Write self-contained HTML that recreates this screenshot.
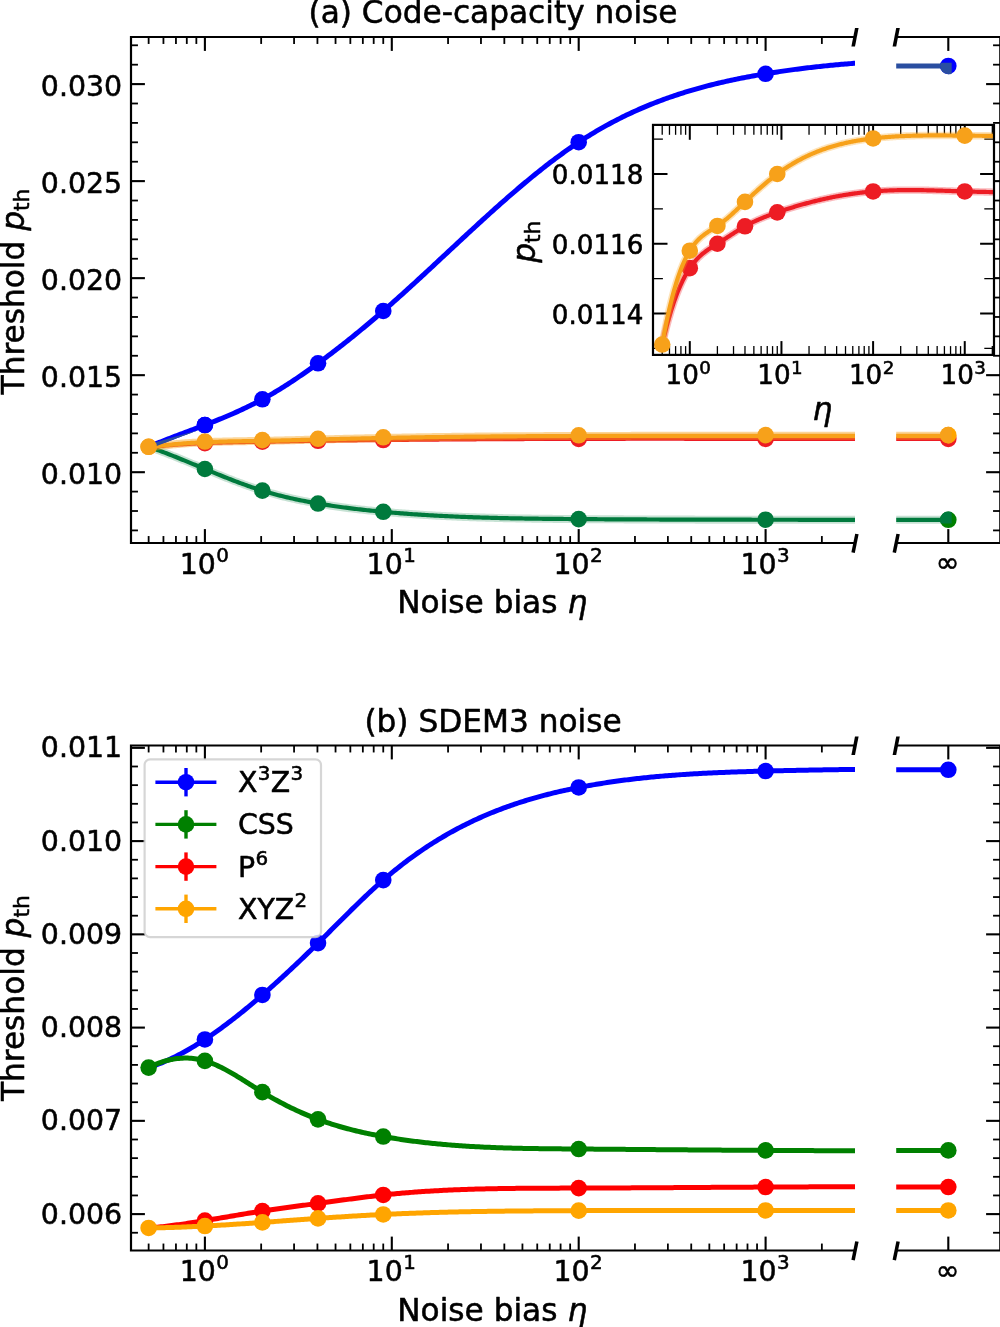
<!DOCTYPE html>
<html lang="en"><head><meta charset="utf-8"><title>Threshold vs noise bias</title>
<style>html,body{margin:0;padding:0;background:#fff}svg{display:block}</style></head>
<body>
<svg width="1000" height="1327" viewBox="0 0 1000 1327" font-family="'DejaVu Sans', 'Liberation Sans', sans-serif" fill="#000"><style>text{stroke:#000;stroke-width:0.55px;stroke-linejoin:round}</style>
<rect width="1000" height="1327" fill="#fff"/>
<clipPath id="cl37"><rect x="131.0" y="37.0" width="724.0" height="506.0"/></clipPath>
<path d="M148.64,446.76 L150.41,446.02 L152.19,445.28 L153.97,444.55 L155.74,443.83 L157.52,443.11 L159.30,442.40 L161.07,441.70 L162.85,441.00 L164.63,440.30 L166.40,439.61 L168.18,438.92 L169.95,438.23 L171.73,437.55 L173.51,436.87 L175.28,436.20 L177.06,435.53 L178.84,434.85 L180.61,434.18 L182.39,433.51 L184.17,432.85 L185.94,432.18 L187.72,431.51 L189.50,430.85 L191.27,430.18 L193.05,429.51 L194.82,428.84 L196.60,428.17 L198.38,427.50 L200.15,426.82 L201.93,426.15 L203.71,425.47 L205.48,424.78 L207.26,424.10 L209.04,423.41 L210.81,422.71 L212.59,422.01 L214.37,421.31 L216.14,420.60 L217.92,419.89 L219.69,419.17 L221.47,418.44 L223.25,417.71 L225.02,416.97 L226.80,416.23 L228.58,415.47 L230.35,414.71 L232.13,413.94 L233.91,413.17 L235.68,412.38 L237.46,411.59 L239.24,410.78 L241.01,409.97 L242.79,409.14 L244.57,408.31 L246.34,407.46 L248.12,406.61 L249.89,405.74 L251.67,404.86 L253.45,403.97 L255.22,403.06 L257.00,402.15 L258.78,401.22 L260.55,400.27 L262.33,399.32 L264.11,398.35 L265.88,397.36 L267.66,396.36 L269.44,395.35 L271.21,394.33 L272.99,393.29 L274.76,392.24 L276.54,391.18 L278.32,390.10 L280.09,389.01 L281.87,387.91 L283.65,386.80 L285.42,385.68 L287.20,384.55 L288.98,383.40 L290.75,382.24 L292.53,381.08 L294.31,379.90 L296.08,378.71 L297.86,377.52 L299.63,376.31 L301.41,375.10 L303.19,373.87 L304.96,372.64 L306.74,371.39 L308.52,370.14 L310.29,368.88 L312.07,367.61 L313.85,366.34 L315.62,365.05 L317.40,363.76 L319.18,362.46 L320.95,361.16 L322.73,359.84 L324.50,358.52 L326.28,357.19 L328.06,355.86 L329.83,354.52 L331.61,353.17 L333.39,351.81 L335.16,350.45 L336.94,349.08 L338.72,347.70 L340.49,346.32 L342.27,344.93 L344.05,343.53 L345.82,342.13 L347.60,340.72 L349.37,339.30 L351.15,337.87 L352.93,336.44 L354.70,335.00 L356.48,333.56 L358.26,332.11 L360.03,330.65 L361.81,329.19 L363.59,327.71 L365.36,326.24 L367.14,324.75 L368.92,323.26 L370.69,321.77 L372.47,320.26 L374.24,318.75 L376.02,317.24 L377.80,315.71 L379.57,314.18 L381.35,312.65 L383.13,311.11 L384.90,309.56 L386.68,308.01 L388.46,306.45 L390.23,304.88 L392.01,303.31 L393.79,301.74 L395.56,300.15 L397.34,298.57 L399.11,296.98 L400.89,295.38 L402.67,293.78 L404.44,292.18 L406.22,290.57 L408.00,288.95 L409.77,287.34 L411.55,285.72 L413.33,284.09 L415.10,282.47 L416.88,280.84 L418.66,279.21 L420.43,277.57 L422.21,275.93 L423.99,274.29 L425.76,272.65 L427.54,271.00 L429.31,269.36 L431.09,267.71 L432.87,266.06 L434.64,264.41 L436.42,262.76 L438.20,261.10 L439.97,259.45 L441.75,257.79 L443.53,256.14 L445.30,254.48 L447.08,252.83 L448.86,251.17 L450.63,249.52 L452.41,247.86 L454.18,246.21 L455.96,244.56 L457.74,242.90 L459.51,241.25 L461.29,239.60 L463.07,237.95 L464.84,236.31 L466.62,234.66 L468.40,233.02 L470.17,231.38 L471.95,229.74 L473.73,228.10 L475.50,226.47 L477.28,224.84 L479.05,223.21 L480.83,221.59 L482.61,219.97 L484.38,218.35 L486.16,216.73 L487.94,215.12 L489.71,213.52 L491.49,211.92 L493.27,210.32 L495.04,208.73 L496.82,207.14 L498.60,205.56 L500.37,203.98 L502.15,202.41 L503.92,200.84 L505.70,199.28 L507.48,197.73 L509.25,196.18 L511.03,194.63 L512.81,193.10 L514.58,191.57 L516.36,190.04 L518.14,188.53 L519.91,187.02 L521.69,185.51 L523.47,184.02 L525.24,182.53 L527.02,181.05 L528.79,179.58 L530.57,178.12 L532.35,176.66 L534.12,175.22 L535.90,173.78 L537.68,172.35 L539.45,170.93 L541.23,169.52 L543.01,168.12 L544.78,166.72 L546.56,165.34 L548.34,163.97 L550.11,162.60 L551.89,161.25 L553.66,159.91 L555.44,158.58 L557.22,157.26 L558.99,155.95 L560.77,154.65 L562.55,153.36 L564.32,152.08 L566.10,150.82 L567.88,149.57 L569.65,148.33 L571.43,147.10 L573.21,145.88 L574.98,144.68 L576.76,143.49 L578.54,142.31 L580.31,141.14 L582.09,139.99 L583.86,138.85 L585.64,137.72 L587.42,136.61 L589.19,135.51 L590.97,134.42 L592.75,133.34 L594.52,132.28 L596.30,131.22 L598.08,130.18 L599.85,129.16 L601.63,128.14 L603.41,127.13 L605.18,126.14 L606.96,125.16 L608.73,124.19 L610.51,123.23 L612.29,122.29 L614.06,121.35 L615.84,120.43 L617.62,119.52 L619.39,118.62 L621.17,117.73 L622.95,116.85 L624.72,115.98 L626.50,115.12 L628.28,114.27 L630.05,113.43 L631.83,112.61 L633.60,111.79 L635.38,110.99 L637.16,110.19 L638.93,109.41 L640.71,108.63 L642.49,107.86 L644.26,107.11 L646.04,106.36 L647.82,105.63 L649.59,104.90 L651.37,104.18 L653.15,103.47 L654.92,102.77 L656.70,102.08 L658.47,101.40 L660.25,100.73 L662.03,100.07 L663.80,99.42 L665.58,98.77 L667.36,98.14 L669.13,97.51 L670.91,96.89 L672.69,96.28 L674.46,95.68 L676.24,95.08 L678.02,94.50 L679.79,93.92 L681.57,93.35 L683.34,92.78 L685.12,92.23 L686.90,91.68 L688.67,91.14 L690.45,90.61 L692.23,90.09 L694.00,89.57 L695.78,89.06 L697.56,88.56 L699.33,88.06 L701.11,87.58 L702.89,87.09 L704.66,86.62 L706.44,86.15 L708.21,85.69 L709.99,85.23 L711.77,84.79 L713.54,84.34 L715.32,83.91 L717.10,83.48 L718.87,83.05 L720.65,82.64 L722.43,82.23 L724.20,81.82 L725.98,81.42 L727.76,81.02 L729.53,80.64 L731.31,80.25 L733.08,79.87 L734.86,79.50 L736.64,79.13 L738.41,78.77 L740.19,78.41 L741.97,78.06 L743.74,77.71 L745.52,77.37 L747.30,77.03 L749.07,76.70 L750.85,76.37 L752.63,76.04 L754.40,75.72 L756.18,75.41 L757.96,75.09 L759.73,74.79 L761.51,74.48 L763.28,74.18 L765.06,73.89 L766.84,73.59 L768.61,73.30 L770.39,73.02 L772.17,72.74 L773.94,72.46 L775.72,72.18 L777.50,71.91 L779.27,71.64 L781.05,71.38 L782.83,71.12 L784.60,70.86 L786.38,70.61 L788.15,70.36 L789.93,70.11 L791.71,69.87 L793.48,69.63 L795.26,69.39 L797.04,69.16 L798.81,68.93 L800.59,68.70 L802.37,68.48 L804.14,68.26 L805.92,68.04 L807.70,67.82 L809.47,67.61 L811.25,67.41 L813.02,67.20 L814.80,67.00 L816.58,66.81 L818.35,66.61 L820.13,66.42 L821.91,66.23 L823.68,66.05 L825.46,65.87 L827.24,65.69 L829.01,65.51 L830.79,65.34 L832.57,65.17 L834.34,65.00 L836.12,64.84 L837.89,64.68 L839.67,64.52 L841.45,64.36 L843.22,64.21 L845.00,64.06 L846.78,63.92 L848.55,63.77 L850.33,63.63 L852.11,63.50 L853.88,63.36 L855.66,63.23 L857.44,63.10" fill="none" stroke="#0000ff" stroke-width="5.0" stroke-linejoin="round" clip-path="url(#cl37)"/>
<line x1="896.20" y1="65.96" x2="948.30" y2="65.96" stroke="#2a4ea0" stroke-width="5.0" stroke-linecap="butt" />
<circle cx="204.90" cy="425.01" r="8.3" fill="#0000ff"/>
<circle cx="262.37" cy="399.30" r="8.3" fill="#0000ff"/>
<circle cx="318.03" cy="363.30" r="8.3" fill="#0000ff"/>
<circle cx="383.25" cy="311.00" r="8.3" fill="#0000ff"/>
<circle cx="578.70" cy="142.20" r="8.3" fill="#0000ff"/>
<circle cx="765.60" cy="73.80" r="8.3" fill="#0000ff"/>
<circle cx="948.30" cy="65.96" r="8.3" fill="#0000ff"/>
<clipPath id="mk370000ff"><rect x="936.3" y="62.76" width="15.4" height="15.20"/></clipPath>
<circle cx="948.30" cy="65.96" r="8.3" fill="#2a4ea0" clip-path="url(#mk370000ff)"/>
<path d="M148.64,446.76 L150.41,447.38 L152.19,448.01 L153.97,448.65 L155.74,449.30 L157.52,449.95 L159.30,450.61 L161.07,451.28 L162.85,451.95 L164.63,452.63 L166.40,453.31 L168.18,454.00 L169.95,454.70 L171.73,455.40 L173.51,456.11 L175.28,456.81 L177.06,457.53 L178.84,458.24 L180.61,458.97 L182.39,459.69 L184.17,460.42 L185.94,461.14 L187.72,461.87 L189.50,462.61 L191.27,463.34 L193.05,464.08 L194.82,464.81 L196.60,465.55 L198.38,466.29 L200.15,467.03 L201.93,467.77 L203.71,468.50 L205.48,469.24 L207.26,469.98 L209.04,470.71 L210.81,471.44 L212.59,472.17 L214.37,472.90 L216.14,473.63 L217.92,474.35 L219.69,475.07 L221.47,475.79 L223.25,476.50 L225.02,477.21 L226.80,477.91 L228.58,478.61 L230.35,479.30 L232.13,479.99 L233.91,480.68 L235.68,481.36 L237.46,482.03 L239.24,482.69 L241.01,483.35 L242.79,484.00 L244.57,484.65 L246.34,485.28 L248.12,485.91 L249.89,486.53 L251.67,487.15 L253.45,487.75 L255.22,488.34 L257.00,488.93 L258.78,489.50 L260.55,490.07 L262.33,490.62 L264.11,491.17 L265.88,491.70 L267.66,492.22 L269.44,492.74 L271.21,493.24 L272.99,493.73 L274.76,494.22 L276.54,494.69 L278.32,495.16 L280.09,495.62 L281.87,496.06 L283.65,496.50 L285.42,496.93 L287.20,497.36 L288.98,497.77 L290.75,498.18 L292.53,498.57 L294.31,498.96 L296.08,499.35 L297.86,499.72 L299.63,500.09 L301.41,500.46 L303.19,500.81 L304.96,501.16 L306.74,501.50 L308.52,501.84 L310.29,502.17 L312.07,502.49 L313.85,502.81 L315.62,503.12 L317.40,503.43 L319.18,503.73 L320.95,504.03 L322.73,504.32 L324.50,504.61 L326.28,504.89 L328.06,505.17 L329.83,505.44 L331.61,505.71 L333.39,505.98 L335.16,506.24 L336.94,506.49 L338.72,506.74 L340.49,506.99 L342.27,507.23 L344.05,507.47 L345.82,507.70 L347.60,507.93 L349.37,508.16 L351.15,508.38 L352.93,508.60 L354.70,508.81 L356.48,509.02 L358.26,509.23 L360.03,509.43 L361.81,509.63 L363.59,509.83 L365.36,510.03 L367.14,510.22 L368.92,510.40 L370.69,510.59 L372.47,510.77 L374.24,510.95 L376.02,511.12 L377.80,511.29 L379.57,511.46 L381.35,511.63 L383.13,511.79 L384.90,511.96 L386.68,512.12 L388.46,512.27 L390.23,512.43 L392.01,512.58 L393.79,512.73 L395.56,512.87 L397.34,513.02 L399.11,513.16 L400.89,513.30 L402.67,513.44 L404.44,513.57 L406.22,513.71 L408.00,513.84 L409.77,513.97 L411.55,514.09 L413.33,514.22 L415.10,514.34 L416.88,514.46 L418.66,514.58 L420.43,514.69 L422.21,514.80 L423.99,514.92 L425.76,515.02 L427.54,515.13 L429.31,515.24 L431.09,515.34 L432.87,515.44 L434.64,515.54 L436.42,515.64 L438.20,515.73 L439.97,515.83 L441.75,515.92 L443.53,516.01 L445.30,516.10 L447.08,516.18 L448.86,516.27 L450.63,516.35 L452.41,516.43 L454.18,516.51 L455.96,516.59 L457.74,516.66 L459.51,516.74 L461.29,516.81 L463.07,516.88 L464.84,516.95 L466.62,517.02 L468.40,517.09 L470.17,517.15 L471.95,517.22 L473.73,517.28 L475.50,517.34 L477.28,517.40 L479.05,517.45 L480.83,517.51 L482.61,517.57 L484.38,517.62 L486.16,517.67 L487.94,517.72 L489.71,517.77 L491.49,517.82 L493.27,517.87 L495.04,517.91 L496.82,517.96 L498.60,518.00 L500.37,518.04 L502.15,518.09 L503.92,518.13 L505.70,518.17 L507.48,518.20 L509.25,518.24 L511.03,518.28 L512.81,518.31 L514.58,518.35 L516.36,518.38 L518.14,518.41 L519.91,518.44 L521.69,518.47 L523.47,518.50 L525.24,518.53 L527.02,518.56 L528.79,518.59 L530.57,518.61 L532.35,518.64 L534.12,518.66 L535.90,518.69 L537.68,518.71 L539.45,518.73 L541.23,518.75 L543.01,518.78 L544.78,518.80 L546.56,518.82 L548.34,518.84 L550.11,518.85 L551.89,518.87 L553.66,518.89 L555.44,518.91 L557.22,518.93 L558.99,518.94 L560.77,518.96 L562.55,518.97 L564.32,518.99 L566.10,519.00 L567.88,519.02 L569.65,519.03 L571.43,519.05 L573.21,519.06 L574.98,519.07 L576.76,519.09 L578.54,519.10 L580.31,519.11 L582.09,519.13 L583.86,519.14 L585.64,519.15 L587.42,519.16 L589.19,519.18 L590.97,519.19 L592.75,519.20 L594.52,519.21 L596.30,519.22 L598.08,519.23 L599.85,519.24 L601.63,519.25 L603.41,519.27 L605.18,519.28 L606.96,519.29 L608.73,519.30 L610.51,519.31 L612.29,519.32 L614.06,519.33 L615.84,519.34 L617.62,519.34 L619.39,519.35 L621.17,519.36 L622.95,519.37 L624.72,519.38 L626.50,519.39 L628.28,519.40 L630.05,519.41 L631.83,519.41 L633.60,519.42 L635.38,519.43 L637.16,519.44 L638.93,519.45 L640.71,519.45 L642.49,519.46 L644.26,519.47 L646.04,519.47 L647.82,519.48 L649.59,519.49 L651.37,519.50 L653.15,519.50 L654.92,519.51 L656.70,519.52 L658.47,519.52 L660.25,519.53 L662.03,519.53 L663.80,519.54 L665.58,519.55 L667.36,519.55 L669.13,519.56 L670.91,519.56 L672.69,519.57 L674.46,519.57 L676.24,519.58 L678.02,519.58 L679.79,519.59 L681.57,519.59 L683.34,519.60 L685.12,519.60 L686.90,519.61 L688.67,519.61 L690.45,519.62 L692.23,519.62 L694.00,519.62 L695.78,519.63 L697.56,519.63 L699.33,519.64 L701.11,519.64 L702.89,519.64 L704.66,519.65 L706.44,519.65 L708.21,519.66 L709.99,519.66 L711.77,519.66 L713.54,519.67 L715.32,519.67 L717.10,519.67 L718.87,519.68 L720.65,519.68 L722.43,519.68 L724.20,519.69 L725.98,519.69 L727.76,519.69 L729.53,519.69 L731.31,519.70 L733.08,519.70 L734.86,519.70 L736.64,519.71 L738.41,519.71 L740.19,519.71 L741.97,519.71 L743.74,519.72 L745.52,519.72 L747.30,519.72 L749.07,519.72 L750.85,519.72 L752.63,519.73 L754.40,519.73 L756.18,519.73 L757.96,519.73 L759.73,519.74 L761.51,519.74 L763.28,519.74 L765.06,519.74 L766.84,519.74 L768.61,519.75 L770.39,519.75 L772.17,519.75 L773.94,519.75 L775.72,519.75 L777.50,519.76 L779.27,519.76 L781.05,519.76 L782.83,519.76 L784.60,519.76 L786.38,519.76 L788.15,519.77 L789.93,519.77 L791.71,519.77 L793.48,519.77 L795.26,519.77 L797.04,519.77 L798.81,519.78 L800.59,519.78 L802.37,519.78 L804.14,519.78 L805.92,519.78 L807.70,519.78 L809.47,519.79 L811.25,519.79 L813.02,519.79 L814.80,519.79 L816.58,519.79 L818.35,519.79 L820.13,519.79 L821.91,519.80 L823.68,519.80 L825.46,519.80 L827.24,519.80 L829.01,519.80 L830.79,519.80 L832.57,519.80 L834.34,519.80 L836.12,519.81 L837.89,519.81 L839.67,519.81 L841.45,519.81 L843.22,519.81 L845.00,519.81 L846.78,519.81 L848.55,519.81 L850.33,519.81 L852.11,519.81 L853.88,519.82 L855.66,519.82 L857.44,519.82" fill="none" stroke="#007a3d" stroke-width="8.0" stroke-opacity="0.22" clip-path="url(#cl37)"/>
<path d="M148.64,446.76 L150.41,447.38 L152.19,448.01 L153.97,448.65 L155.74,449.30 L157.52,449.95 L159.30,450.61 L161.07,451.28 L162.85,451.95 L164.63,452.63 L166.40,453.31 L168.18,454.00 L169.95,454.70 L171.73,455.40 L173.51,456.11 L175.28,456.81 L177.06,457.53 L178.84,458.24 L180.61,458.97 L182.39,459.69 L184.17,460.42 L185.94,461.14 L187.72,461.87 L189.50,462.61 L191.27,463.34 L193.05,464.08 L194.82,464.81 L196.60,465.55 L198.38,466.29 L200.15,467.03 L201.93,467.77 L203.71,468.50 L205.48,469.24 L207.26,469.98 L209.04,470.71 L210.81,471.44 L212.59,472.17 L214.37,472.90 L216.14,473.63 L217.92,474.35 L219.69,475.07 L221.47,475.79 L223.25,476.50 L225.02,477.21 L226.80,477.91 L228.58,478.61 L230.35,479.30 L232.13,479.99 L233.91,480.68 L235.68,481.36 L237.46,482.03 L239.24,482.69 L241.01,483.35 L242.79,484.00 L244.57,484.65 L246.34,485.28 L248.12,485.91 L249.89,486.53 L251.67,487.15 L253.45,487.75 L255.22,488.34 L257.00,488.93 L258.78,489.50 L260.55,490.07 L262.33,490.62 L264.11,491.17 L265.88,491.70 L267.66,492.22 L269.44,492.74 L271.21,493.24 L272.99,493.73 L274.76,494.22 L276.54,494.69 L278.32,495.16 L280.09,495.62 L281.87,496.06 L283.65,496.50 L285.42,496.93 L287.20,497.36 L288.98,497.77 L290.75,498.18 L292.53,498.57 L294.31,498.96 L296.08,499.35 L297.86,499.72 L299.63,500.09 L301.41,500.46 L303.19,500.81 L304.96,501.16 L306.74,501.50 L308.52,501.84 L310.29,502.17 L312.07,502.49 L313.85,502.81 L315.62,503.12 L317.40,503.43 L319.18,503.73 L320.95,504.03 L322.73,504.32 L324.50,504.61 L326.28,504.89 L328.06,505.17 L329.83,505.44 L331.61,505.71 L333.39,505.98 L335.16,506.24 L336.94,506.49 L338.72,506.74 L340.49,506.99 L342.27,507.23 L344.05,507.47 L345.82,507.70 L347.60,507.93 L349.37,508.16 L351.15,508.38 L352.93,508.60 L354.70,508.81 L356.48,509.02 L358.26,509.23 L360.03,509.43 L361.81,509.63 L363.59,509.83 L365.36,510.03 L367.14,510.22 L368.92,510.40 L370.69,510.59 L372.47,510.77 L374.24,510.95 L376.02,511.12 L377.80,511.29 L379.57,511.46 L381.35,511.63 L383.13,511.79 L384.90,511.96 L386.68,512.12 L388.46,512.27 L390.23,512.43 L392.01,512.58 L393.79,512.73 L395.56,512.87 L397.34,513.02 L399.11,513.16 L400.89,513.30 L402.67,513.44 L404.44,513.57 L406.22,513.71 L408.00,513.84 L409.77,513.97 L411.55,514.09 L413.33,514.22 L415.10,514.34 L416.88,514.46 L418.66,514.58 L420.43,514.69 L422.21,514.80 L423.99,514.92 L425.76,515.02 L427.54,515.13 L429.31,515.24 L431.09,515.34 L432.87,515.44 L434.64,515.54 L436.42,515.64 L438.20,515.73 L439.97,515.83 L441.75,515.92 L443.53,516.01 L445.30,516.10 L447.08,516.18 L448.86,516.27 L450.63,516.35 L452.41,516.43 L454.18,516.51 L455.96,516.59 L457.74,516.66 L459.51,516.74 L461.29,516.81 L463.07,516.88 L464.84,516.95 L466.62,517.02 L468.40,517.09 L470.17,517.15 L471.95,517.22 L473.73,517.28 L475.50,517.34 L477.28,517.40 L479.05,517.45 L480.83,517.51 L482.61,517.57 L484.38,517.62 L486.16,517.67 L487.94,517.72 L489.71,517.77 L491.49,517.82 L493.27,517.87 L495.04,517.91 L496.82,517.96 L498.60,518.00 L500.37,518.04 L502.15,518.09 L503.92,518.13 L505.70,518.17 L507.48,518.20 L509.25,518.24 L511.03,518.28 L512.81,518.31 L514.58,518.35 L516.36,518.38 L518.14,518.41 L519.91,518.44 L521.69,518.47 L523.47,518.50 L525.24,518.53 L527.02,518.56 L528.79,518.59 L530.57,518.61 L532.35,518.64 L534.12,518.66 L535.90,518.69 L537.68,518.71 L539.45,518.73 L541.23,518.75 L543.01,518.78 L544.78,518.80 L546.56,518.82 L548.34,518.84 L550.11,518.85 L551.89,518.87 L553.66,518.89 L555.44,518.91 L557.22,518.93 L558.99,518.94 L560.77,518.96 L562.55,518.97 L564.32,518.99 L566.10,519.00 L567.88,519.02 L569.65,519.03 L571.43,519.05 L573.21,519.06 L574.98,519.07 L576.76,519.09 L578.54,519.10 L580.31,519.11 L582.09,519.13 L583.86,519.14 L585.64,519.15 L587.42,519.16 L589.19,519.18 L590.97,519.19 L592.75,519.20 L594.52,519.21 L596.30,519.22 L598.08,519.23 L599.85,519.24 L601.63,519.25 L603.41,519.27 L605.18,519.28 L606.96,519.29 L608.73,519.30 L610.51,519.31 L612.29,519.32 L614.06,519.33 L615.84,519.34 L617.62,519.34 L619.39,519.35 L621.17,519.36 L622.95,519.37 L624.72,519.38 L626.50,519.39 L628.28,519.40 L630.05,519.41 L631.83,519.41 L633.60,519.42 L635.38,519.43 L637.16,519.44 L638.93,519.45 L640.71,519.45 L642.49,519.46 L644.26,519.47 L646.04,519.47 L647.82,519.48 L649.59,519.49 L651.37,519.50 L653.15,519.50 L654.92,519.51 L656.70,519.52 L658.47,519.52 L660.25,519.53 L662.03,519.53 L663.80,519.54 L665.58,519.55 L667.36,519.55 L669.13,519.56 L670.91,519.56 L672.69,519.57 L674.46,519.57 L676.24,519.58 L678.02,519.58 L679.79,519.59 L681.57,519.59 L683.34,519.60 L685.12,519.60 L686.90,519.61 L688.67,519.61 L690.45,519.62 L692.23,519.62 L694.00,519.62 L695.78,519.63 L697.56,519.63 L699.33,519.64 L701.11,519.64 L702.89,519.64 L704.66,519.65 L706.44,519.65 L708.21,519.66 L709.99,519.66 L711.77,519.66 L713.54,519.67 L715.32,519.67 L717.10,519.67 L718.87,519.68 L720.65,519.68 L722.43,519.68 L724.20,519.69 L725.98,519.69 L727.76,519.69 L729.53,519.69 L731.31,519.70 L733.08,519.70 L734.86,519.70 L736.64,519.71 L738.41,519.71 L740.19,519.71 L741.97,519.71 L743.74,519.72 L745.52,519.72 L747.30,519.72 L749.07,519.72 L750.85,519.72 L752.63,519.73 L754.40,519.73 L756.18,519.73 L757.96,519.73 L759.73,519.74 L761.51,519.74 L763.28,519.74 L765.06,519.74 L766.84,519.74 L768.61,519.75 L770.39,519.75 L772.17,519.75 L773.94,519.75 L775.72,519.75 L777.50,519.76 L779.27,519.76 L781.05,519.76 L782.83,519.76 L784.60,519.76 L786.38,519.76 L788.15,519.77 L789.93,519.77 L791.71,519.77 L793.48,519.77 L795.26,519.77 L797.04,519.77 L798.81,519.78 L800.59,519.78 L802.37,519.78 L804.14,519.78 L805.92,519.78 L807.70,519.78 L809.47,519.79 L811.25,519.79 L813.02,519.79 L814.80,519.79 L816.58,519.79 L818.35,519.79 L820.13,519.79 L821.91,519.80 L823.68,519.80 L825.46,519.80 L827.24,519.80 L829.01,519.80 L830.79,519.80 L832.57,519.80 L834.34,519.80 L836.12,519.81 L837.89,519.81 L839.67,519.81 L841.45,519.81 L843.22,519.81 L845.00,519.81 L846.78,519.81 L848.55,519.81 L850.33,519.81 L852.11,519.81 L853.88,519.82 L855.66,519.82 L857.44,519.82" fill="none" stroke="#007a3d" stroke-width="4.2" stroke-linejoin="round" clip-path="url(#cl37)"/>
<line x1="896.20" y1="519.82" x2="948.30" y2="519.82" stroke="#007a3d" stroke-width="8.0" stroke-linecap="butt" stroke-opacity="0.22"/>
<line x1="896.20" y1="519.82" x2="948.30" y2="519.82" stroke="#007a3d" stroke-width="4.2" stroke-linecap="butt" />
<circle cx="204.90" cy="469.00" r="8.3" fill="#007a3d"/>
<circle cx="262.37" cy="490.63" r="8.3" fill="#007a3d"/>
<circle cx="318.03" cy="503.54" r="8.3" fill="#007a3d"/>
<circle cx="383.25" cy="511.81" r="8.3" fill="#007a3d"/>
<circle cx="578.70" cy="519.10" r="8.3" fill="#007a3d"/>
<circle cx="765.60" cy="519.74" r="8.3" fill="#007a3d"/>
<circle cx="948.30" cy="519.82" r="8.3" fill="#008000"/>
<clipPath id="mk37007a3d"><rect x="936.3" y="507.82" width="15.4" height="15.60"/></clipPath>
<circle cx="948.30" cy="519.82" r="8.3" fill="#007a3d" clip-path="url(#mk37007a3d)"/>
<path d="M148.64,447.36 L150.41,447.15 L152.19,446.94 L153.97,446.75 L155.74,446.55 L157.52,446.37 L159.30,446.18 L161.07,446.01 L162.85,445.84 L164.63,445.67 L166.40,445.51 L168.18,445.36 L169.95,445.21 L171.73,445.06 L173.51,444.92 L175.28,444.78 L177.06,444.65 L178.84,444.52 L180.61,444.40 L182.39,444.28 L184.17,444.17 L185.94,444.06 L187.72,443.95 L189.50,443.85 L191.27,443.75 L193.05,443.66 L194.82,443.57 L196.60,443.48 L198.38,443.39 L200.15,443.31 L201.93,443.23 L203.71,443.16 L205.48,443.09 L207.26,443.02 L209.04,442.95 L210.81,442.89 L212.59,442.83 L214.37,442.77 L216.14,442.71 L217.92,442.66 L219.69,442.61 L221.47,442.56 L223.25,442.51 L225.02,442.46 L226.80,442.42 L228.58,442.38 L230.35,442.34 L232.13,442.30 L233.91,442.26 L235.68,442.22 L237.46,442.19 L239.24,442.15 L241.01,442.12 L242.79,442.08 L244.57,442.05 L246.34,442.02 L248.12,441.99 L249.89,441.96 L251.67,441.93 L253.45,441.90 L255.22,441.87 L257.00,441.84 L258.78,441.81 L260.55,441.78 L262.33,441.75 L264.11,441.72 L265.88,441.69 L267.66,441.66 L269.44,441.63 L271.21,441.60 L272.99,441.57 L274.76,441.54 L276.54,441.50 L278.32,441.47 L280.09,441.44 L281.87,441.41 L283.65,441.38 L285.42,441.34 L287.20,441.31 L288.98,441.28 L290.75,441.25 L292.53,441.22 L294.31,441.18 L296.08,441.15 L297.86,441.12 L299.63,441.09 L301.41,441.06 L303.19,441.03 L304.96,441.00 L306.74,440.97 L308.52,440.94 L310.29,440.91 L312.07,440.88 L313.85,440.85 L315.62,440.82 L317.40,440.79 L319.18,440.76 L320.95,440.74 L322.73,440.71 L324.50,440.68 L326.28,440.66 L328.06,440.63 L329.83,440.61 L331.61,440.58 L333.39,440.56 L335.16,440.54 L336.94,440.51 L338.72,440.49 L340.49,440.47 L342.27,440.44 L344.05,440.42 L345.82,440.40 L347.60,440.38 L349.37,440.36 L351.15,440.34 L352.93,440.32 L354.70,440.30 L356.48,440.28 L358.26,440.26 L360.03,440.24 L361.81,440.22 L363.59,440.20 L365.36,440.18 L367.14,440.16 L368.92,440.15 L370.69,440.13 L372.47,440.11 L374.24,440.09 L376.02,440.08 L377.80,440.06 L379.57,440.04 L381.35,440.02 L383.13,440.01 L384.90,439.99 L386.68,439.97 L388.46,439.96 L390.23,439.94 L392.01,439.92 L393.79,439.91 L395.56,439.89 L397.34,439.88 L399.11,439.86 L400.89,439.84 L402.67,439.83 L404.44,439.81 L406.22,439.80 L408.00,439.78 L409.77,439.77 L411.55,439.75 L413.33,439.74 L415.10,439.72 L416.88,439.71 L418.66,439.69 L420.43,439.68 L422.21,439.66 L423.99,439.65 L425.76,439.63 L427.54,439.62 L429.31,439.61 L431.09,439.59 L432.87,439.58 L434.64,439.56 L436.42,439.55 L438.20,439.54 L439.97,439.52 L441.75,439.51 L443.53,439.50 L445.30,439.48 L447.08,439.47 L448.86,439.46 L450.63,439.45 L452.41,439.43 L454.18,439.42 L455.96,439.41 L457.74,439.40 L459.51,439.38 L461.29,439.37 L463.07,439.36 L464.84,439.35 L466.62,439.34 L468.40,439.32 L470.17,439.31 L471.95,439.30 L473.73,439.29 L475.50,439.28 L477.28,439.27 L479.05,439.26 L480.83,439.25 L482.61,439.24 L484.38,439.23 L486.16,439.22 L487.94,439.21 L489.71,439.20 L491.49,439.19 L493.27,439.18 L495.04,439.17 L496.82,439.16 L498.60,439.15 L500.37,439.14 L502.15,439.13 L503.92,439.12 L505.70,439.11 L507.48,439.10 L509.25,439.09 L511.03,439.08 L512.81,439.07 L514.58,439.07 L516.36,439.06 L518.14,439.05 L519.91,439.04 L521.69,439.03 L523.47,439.03 L525.24,439.02 L527.02,439.01 L528.79,439.00 L530.57,439.00 L532.35,438.99 L534.12,438.98 L535.90,438.97 L537.68,438.97 L539.45,438.96 L541.23,438.95 L543.01,438.95 L544.78,438.94 L546.56,438.93 L548.34,438.93 L550.11,438.92 L551.89,438.92 L553.66,438.91 L555.44,438.90 L557.22,438.90 L558.99,438.89 L560.77,438.89 L562.55,438.88 L564.32,438.88 L566.10,438.87 L567.88,438.87 L569.65,438.86 L571.43,438.86 L573.21,438.85 L574.98,438.85 L576.76,438.85 L578.54,438.84 L580.31,438.84 L582.09,438.83 L583.86,438.83 L585.64,438.83 L587.42,438.82 L589.19,438.82 L590.97,438.82 L592.75,438.81 L594.52,438.81 L596.30,438.81 L598.08,438.80 L599.85,438.80 L601.63,438.80 L603.41,438.80 L605.18,438.79 L606.96,438.79 L608.73,438.79 L610.51,438.79 L612.29,438.79 L614.06,438.78 L615.84,438.78 L617.62,438.78 L619.39,438.78 L621.17,438.78 L622.95,438.78 L624.72,438.78 L626.50,438.77 L628.28,438.77 L630.05,438.77 L631.83,438.77 L633.60,438.77 L635.38,438.77 L637.16,438.77 L638.93,438.77 L640.71,438.77 L642.49,438.77 L644.26,438.77 L646.04,438.77 L647.82,438.77 L649.59,438.77 L651.37,438.77 L653.15,438.77 L654.92,438.77 L656.70,438.77 L658.47,438.77 L660.25,438.77 L662.03,438.77 L663.80,438.77 L665.58,438.77 L667.36,438.77 L669.13,438.77 L670.91,438.77 L672.69,438.77 L674.46,438.77 L676.24,438.77 L678.02,438.77 L679.79,438.77 L681.57,438.77 L683.34,438.77 L685.12,438.78 L686.90,438.78 L688.67,438.78 L690.45,438.78 L692.23,438.78 L694.00,438.78 L695.78,438.78 L697.56,438.78 L699.33,438.78 L701.11,438.79 L702.89,438.79 L704.66,438.79 L706.44,438.79 L708.21,438.79 L709.99,438.79 L711.77,438.79 L713.54,438.80 L715.32,438.80 L717.10,438.80 L718.87,438.80 L720.65,438.80 L722.43,438.80 L724.20,438.80 L725.98,438.81 L727.76,438.81 L729.53,438.81 L731.31,438.81 L733.08,438.81 L734.86,438.81 L736.64,438.82 L738.41,438.82 L740.19,438.82 L741.97,438.82 L743.74,438.82 L745.52,438.82 L747.30,438.83 L749.07,438.83 L750.85,438.83 L752.63,438.83 L754.40,438.83 L756.18,438.83 L757.96,438.83 L759.73,438.84 L761.51,438.84 L763.28,438.84 L765.06,438.84 L766.84,438.84 L768.61,438.84 L770.39,438.85 L772.17,438.85 L773.94,438.85 L775.72,438.85 L777.50,438.85 L779.27,438.85 L781.05,438.85 L782.83,438.85 L784.60,438.86 L786.38,438.86 L788.15,438.86 L789.93,438.86 L791.71,438.86 L793.48,438.86 L795.26,438.86 L797.04,438.86 L798.81,438.86 L800.59,438.87 L802.37,438.87 L804.14,438.87 L805.92,438.87 L807.70,438.87 L809.47,438.87 L811.25,438.87 L813.02,438.87 L814.80,438.87 L816.58,438.87 L818.35,438.88 L820.13,438.88 L821.91,438.88 L823.68,438.88 L825.46,438.88 L827.24,438.88 L829.01,438.88 L830.79,438.88 L832.57,438.88 L834.34,438.88 L836.12,438.88 L837.89,438.88 L839.67,438.89 L841.45,438.89 L843.22,438.89 L845.00,438.89 L846.78,438.89 L848.55,438.89 L850.33,438.89 L852.11,438.89 L853.88,438.89 L855.66,438.89 L857.44,438.89" fill="none" stroke="#ed1c24" stroke-width="4.2" stroke-linejoin="round" clip-path="url(#cl37)"/>
<line x1="896.20" y1="438.84" x2="948.30" y2="438.84" stroke="#ed1c24" stroke-width="4.2" stroke-linecap="butt" />
<circle cx="204.90" cy="443.11" r="8.3" fill="#ed1c24"/>
<circle cx="262.37" cy="441.75" r="8.3" fill="#ed1c24"/>
<circle cx="318.03" cy="440.78" r="8.3" fill="#ed1c24"/>
<circle cx="383.25" cy="440.01" r="8.3" fill="#ed1c24"/>
<circle cx="578.70" cy="438.84" r="8.3" fill="#ed1c24"/>
<circle cx="765.60" cy="438.84" r="8.3" fill="#ed1c24"/>
<circle cx="948.30" cy="438.84" r="8.3" fill="#ed1c24"/>
<path d="M148.64,447.46 L150.41,447.19 L152.19,446.92 L153.97,446.67 L155.74,446.42 L157.52,446.18 L159.30,445.95 L161.07,445.73 L162.85,445.51 L164.63,445.31 L166.40,445.10 L168.18,444.91 L169.95,444.72 L171.73,444.54 L173.51,444.37 L175.28,444.20 L177.06,444.04 L178.84,443.89 L180.61,443.74 L182.39,443.60 L184.17,443.46 L185.94,443.33 L187.72,443.20 L189.50,443.08 L191.27,442.97 L193.05,442.86 L194.82,442.75 L196.60,442.65 L198.38,442.56 L200.15,442.46 L201.93,442.38 L203.71,442.29 L205.48,442.21 L207.26,442.14 L209.04,442.07 L210.81,442.00 L212.59,441.93 L214.37,441.87 L216.14,441.81 L217.92,441.76 L219.69,441.70 L221.47,441.65 L223.25,441.61 L225.02,441.56 L226.80,441.52 L228.58,441.47 L230.35,441.44 L232.13,441.40 L233.91,441.36 L235.68,441.33 L237.46,441.29 L239.24,441.26 L241.01,441.23 L242.79,441.20 L244.57,441.17 L246.34,441.14 L248.12,441.11 L249.89,441.08 L251.67,441.05 L253.45,441.02 L255.22,440.99 L257.00,440.96 L258.78,440.93 L260.55,440.90 L262.33,440.86 L264.11,440.83 L265.88,440.80 L267.66,440.76 L269.44,440.72 L271.21,440.69 L272.99,440.65 L274.76,440.61 L276.54,440.57 L278.32,440.53 L280.09,440.49 L281.87,440.45 L283.65,440.41 L285.42,440.36 L287.20,440.32 L288.98,440.28 L290.75,440.23 L292.53,440.19 L294.31,440.14 L296.08,440.10 L297.86,440.05 L299.63,440.01 L301.41,439.96 L303.19,439.91 L304.96,439.87 L306.74,439.82 L308.52,439.77 L310.29,439.73 L312.07,439.68 L313.85,439.63 L315.62,439.59 L317.40,439.54 L319.18,439.49 L320.95,439.45 L322.73,439.40 L324.50,439.35 L326.28,439.31 L328.06,439.26 L329.83,439.22 L331.61,439.17 L333.39,439.13 L335.16,439.08 L336.94,439.04 L338.72,438.99 L340.49,438.95 L342.27,438.90 L344.05,438.86 L345.82,438.82 L347.60,438.77 L349.37,438.73 L351.15,438.69 L352.93,438.64 L354.70,438.60 L356.48,438.56 L358.26,438.52 L360.03,438.48 L361.81,438.44 L363.59,438.40 L365.36,438.36 L367.14,438.32 L368.92,438.28 L370.69,438.24 L372.47,438.20 L374.24,438.16 L376.02,438.12 L377.80,438.08 L379.57,438.05 L381.35,438.01 L383.13,437.97 L384.90,437.94 L386.68,437.90 L388.46,437.87 L390.23,437.83 L392.01,437.80 L393.79,437.76 L395.56,437.73 L397.34,437.70 L399.11,437.67 L400.89,437.63 L402.67,437.60 L404.44,437.57 L406.22,437.54 L408.00,437.51 L409.77,437.48 L411.55,437.45 L413.33,437.42 L415.10,437.39 L416.88,437.36 L418.66,437.33 L420.43,437.31 L422.21,437.28 L423.99,437.25 L425.76,437.22 L427.54,437.20 L429.31,437.17 L431.09,437.15 L432.87,437.12 L434.64,437.10 L436.42,437.07 L438.20,437.05 L439.97,437.02 L441.75,437.00 L443.53,436.98 L445.30,436.95 L447.08,436.93 L448.86,436.91 L450.63,436.89 L452.41,436.87 L454.18,436.84 L455.96,436.82 L457.74,436.80 L459.51,436.78 L461.29,436.76 L463.07,436.74 L464.84,436.72 L466.62,436.70 L468.40,436.69 L470.17,436.67 L471.95,436.65 L473.73,436.63 L475.50,436.61 L477.28,436.60 L479.05,436.58 L480.83,436.56 L482.61,436.55 L484.38,436.53 L486.16,436.51 L487.94,436.50 L489.71,436.48 L491.49,436.47 L493.27,436.45 L495.04,436.44 L496.82,436.42 L498.60,436.41 L500.37,436.40 L502.15,436.38 L503.92,436.37 L505.70,436.36 L507.48,436.34 L509.25,436.33 L511.03,436.32 L512.81,436.31 L514.58,436.29 L516.36,436.28 L518.14,436.27 L519.91,436.26 L521.69,436.25 L523.47,436.24 L525.24,436.23 L527.02,436.22 L528.79,436.21 L530.57,436.20 L532.35,436.19 L534.12,436.18 L535.90,436.17 L537.68,436.16 L539.45,436.15 L541.23,436.14 L543.01,436.13 L544.78,436.12 L546.56,436.12 L548.34,436.11 L550.11,436.10 L551.89,436.09 L553.66,436.08 L555.44,436.08 L557.22,436.07 L558.99,436.06 L560.77,436.05 L562.55,436.05 L564.32,436.04 L566.10,436.03 L567.88,436.03 L569.65,436.02 L571.43,436.02 L573.21,436.01 L574.98,436.00 L576.76,436.00 L578.54,435.99 L580.31,435.99 L582.09,435.98 L583.86,435.98 L585.64,435.97 L587.42,435.97 L589.19,435.96 L590.97,435.96 L592.75,435.95 L594.52,435.95 L596.30,435.94 L598.08,435.94 L599.85,435.93 L601.63,435.93 L603.41,435.92 L605.18,435.92 L606.96,435.92 L608.73,435.91 L610.51,435.91 L612.29,435.91 L614.06,435.90 L615.84,435.90 L617.62,435.90 L619.39,435.89 L621.17,435.89 L622.95,435.89 L624.72,435.88 L626.50,435.88 L628.28,435.88 L630.05,435.88 L631.83,435.87 L633.60,435.87 L635.38,435.87 L637.16,435.87 L638.93,435.86 L640.71,435.86 L642.49,435.86 L644.26,435.86 L646.04,435.86 L647.82,435.85 L649.59,435.85 L651.37,435.85 L653.15,435.85 L654.92,435.85 L656.70,435.85 L658.47,435.84 L660.25,435.84 L662.03,435.84 L663.80,435.84 L665.58,435.84 L667.36,435.84 L669.13,435.84 L670.91,435.84 L672.69,435.83 L674.46,435.83 L676.24,435.83 L678.02,435.83 L679.79,435.83 L681.57,435.83 L683.34,435.83 L685.12,435.83 L686.90,435.83 L688.67,435.83 L690.45,435.83 L692.23,435.83 L694.00,435.83 L695.78,435.83 L697.56,435.83 L699.33,435.83 L701.11,435.83 L702.89,435.83 L704.66,435.83 L706.44,435.83 L708.21,435.83 L709.99,435.83 L711.77,435.83 L713.54,435.83 L715.32,435.83 L717.10,435.83 L718.87,435.83 L720.65,435.83 L722.43,435.83 L724.20,435.83 L725.98,435.83 L727.76,435.83 L729.53,435.83 L731.31,435.83 L733.08,435.83 L734.86,435.83 L736.64,435.83 L738.41,435.83 L740.19,435.83 L741.97,435.83 L743.74,435.83 L745.52,435.83 L747.30,435.83 L749.07,435.83 L750.85,435.83 L752.63,435.83 L754.40,435.83 L756.18,435.83 L757.96,435.83 L759.73,435.84 L761.51,435.84 L763.28,435.84 L765.06,435.84 L766.84,435.84 L768.61,435.84 L770.39,435.84 L772.17,435.84 L773.94,435.84 L775.72,435.84 L777.50,435.84 L779.27,435.84 L781.05,435.84 L782.83,435.84 L784.60,435.84 L786.38,435.84 L788.15,435.84 L789.93,435.84 L791.71,435.84 L793.48,435.84 L795.26,435.84 L797.04,435.84 L798.81,435.84 L800.59,435.84 L802.37,435.84 L804.14,435.84 L805.92,435.84 L807.70,435.84 L809.47,435.85 L811.25,435.85 L813.02,435.85 L814.80,435.85 L816.58,435.85 L818.35,435.85 L820.13,435.85 L821.91,435.85 L823.68,435.85 L825.46,435.85 L827.24,435.85 L829.01,435.85 L830.79,435.85 L832.57,435.85 L834.34,435.85 L836.12,435.85 L837.89,435.85 L839.67,435.85 L841.45,435.85 L843.22,435.85 L845.00,435.85 L846.78,435.85 L848.55,435.85 L850.33,435.85 L852.11,435.85 L853.88,435.85 L855.66,435.85 L857.44,435.85" fill="none" stroke="#f7a11a" stroke-width="8.0" stroke-opacity="0.45" clip-path="url(#cl37)"/>
<path d="M148.64,447.46 L150.41,447.19 L152.19,446.92 L153.97,446.67 L155.74,446.42 L157.52,446.18 L159.30,445.95 L161.07,445.73 L162.85,445.51 L164.63,445.31 L166.40,445.10 L168.18,444.91 L169.95,444.72 L171.73,444.54 L173.51,444.37 L175.28,444.20 L177.06,444.04 L178.84,443.89 L180.61,443.74 L182.39,443.60 L184.17,443.46 L185.94,443.33 L187.72,443.20 L189.50,443.08 L191.27,442.97 L193.05,442.86 L194.82,442.75 L196.60,442.65 L198.38,442.56 L200.15,442.46 L201.93,442.38 L203.71,442.29 L205.48,442.21 L207.26,442.14 L209.04,442.07 L210.81,442.00 L212.59,441.93 L214.37,441.87 L216.14,441.81 L217.92,441.76 L219.69,441.70 L221.47,441.65 L223.25,441.61 L225.02,441.56 L226.80,441.52 L228.58,441.47 L230.35,441.44 L232.13,441.40 L233.91,441.36 L235.68,441.33 L237.46,441.29 L239.24,441.26 L241.01,441.23 L242.79,441.20 L244.57,441.17 L246.34,441.14 L248.12,441.11 L249.89,441.08 L251.67,441.05 L253.45,441.02 L255.22,440.99 L257.00,440.96 L258.78,440.93 L260.55,440.90 L262.33,440.86 L264.11,440.83 L265.88,440.80 L267.66,440.76 L269.44,440.72 L271.21,440.69 L272.99,440.65 L274.76,440.61 L276.54,440.57 L278.32,440.53 L280.09,440.49 L281.87,440.45 L283.65,440.41 L285.42,440.36 L287.20,440.32 L288.98,440.28 L290.75,440.23 L292.53,440.19 L294.31,440.14 L296.08,440.10 L297.86,440.05 L299.63,440.01 L301.41,439.96 L303.19,439.91 L304.96,439.87 L306.74,439.82 L308.52,439.77 L310.29,439.73 L312.07,439.68 L313.85,439.63 L315.62,439.59 L317.40,439.54 L319.18,439.49 L320.95,439.45 L322.73,439.40 L324.50,439.35 L326.28,439.31 L328.06,439.26 L329.83,439.22 L331.61,439.17 L333.39,439.13 L335.16,439.08 L336.94,439.04 L338.72,438.99 L340.49,438.95 L342.27,438.90 L344.05,438.86 L345.82,438.82 L347.60,438.77 L349.37,438.73 L351.15,438.69 L352.93,438.64 L354.70,438.60 L356.48,438.56 L358.26,438.52 L360.03,438.48 L361.81,438.44 L363.59,438.40 L365.36,438.36 L367.14,438.32 L368.92,438.28 L370.69,438.24 L372.47,438.20 L374.24,438.16 L376.02,438.12 L377.80,438.08 L379.57,438.05 L381.35,438.01 L383.13,437.97 L384.90,437.94 L386.68,437.90 L388.46,437.87 L390.23,437.83 L392.01,437.80 L393.79,437.76 L395.56,437.73 L397.34,437.70 L399.11,437.67 L400.89,437.63 L402.67,437.60 L404.44,437.57 L406.22,437.54 L408.00,437.51 L409.77,437.48 L411.55,437.45 L413.33,437.42 L415.10,437.39 L416.88,437.36 L418.66,437.33 L420.43,437.31 L422.21,437.28 L423.99,437.25 L425.76,437.22 L427.54,437.20 L429.31,437.17 L431.09,437.15 L432.87,437.12 L434.64,437.10 L436.42,437.07 L438.20,437.05 L439.97,437.02 L441.75,437.00 L443.53,436.98 L445.30,436.95 L447.08,436.93 L448.86,436.91 L450.63,436.89 L452.41,436.87 L454.18,436.84 L455.96,436.82 L457.74,436.80 L459.51,436.78 L461.29,436.76 L463.07,436.74 L464.84,436.72 L466.62,436.70 L468.40,436.69 L470.17,436.67 L471.95,436.65 L473.73,436.63 L475.50,436.61 L477.28,436.60 L479.05,436.58 L480.83,436.56 L482.61,436.55 L484.38,436.53 L486.16,436.51 L487.94,436.50 L489.71,436.48 L491.49,436.47 L493.27,436.45 L495.04,436.44 L496.82,436.42 L498.60,436.41 L500.37,436.40 L502.15,436.38 L503.92,436.37 L505.70,436.36 L507.48,436.34 L509.25,436.33 L511.03,436.32 L512.81,436.31 L514.58,436.29 L516.36,436.28 L518.14,436.27 L519.91,436.26 L521.69,436.25 L523.47,436.24 L525.24,436.23 L527.02,436.22 L528.79,436.21 L530.57,436.20 L532.35,436.19 L534.12,436.18 L535.90,436.17 L537.68,436.16 L539.45,436.15 L541.23,436.14 L543.01,436.13 L544.78,436.12 L546.56,436.12 L548.34,436.11 L550.11,436.10 L551.89,436.09 L553.66,436.08 L555.44,436.08 L557.22,436.07 L558.99,436.06 L560.77,436.05 L562.55,436.05 L564.32,436.04 L566.10,436.03 L567.88,436.03 L569.65,436.02 L571.43,436.02 L573.21,436.01 L574.98,436.00 L576.76,436.00 L578.54,435.99 L580.31,435.99 L582.09,435.98 L583.86,435.98 L585.64,435.97 L587.42,435.97 L589.19,435.96 L590.97,435.96 L592.75,435.95 L594.52,435.95 L596.30,435.94 L598.08,435.94 L599.85,435.93 L601.63,435.93 L603.41,435.92 L605.18,435.92 L606.96,435.92 L608.73,435.91 L610.51,435.91 L612.29,435.91 L614.06,435.90 L615.84,435.90 L617.62,435.90 L619.39,435.89 L621.17,435.89 L622.95,435.89 L624.72,435.88 L626.50,435.88 L628.28,435.88 L630.05,435.88 L631.83,435.87 L633.60,435.87 L635.38,435.87 L637.16,435.87 L638.93,435.86 L640.71,435.86 L642.49,435.86 L644.26,435.86 L646.04,435.86 L647.82,435.85 L649.59,435.85 L651.37,435.85 L653.15,435.85 L654.92,435.85 L656.70,435.85 L658.47,435.84 L660.25,435.84 L662.03,435.84 L663.80,435.84 L665.58,435.84 L667.36,435.84 L669.13,435.84 L670.91,435.84 L672.69,435.83 L674.46,435.83 L676.24,435.83 L678.02,435.83 L679.79,435.83 L681.57,435.83 L683.34,435.83 L685.12,435.83 L686.90,435.83 L688.67,435.83 L690.45,435.83 L692.23,435.83 L694.00,435.83 L695.78,435.83 L697.56,435.83 L699.33,435.83 L701.11,435.83 L702.89,435.83 L704.66,435.83 L706.44,435.83 L708.21,435.83 L709.99,435.83 L711.77,435.83 L713.54,435.83 L715.32,435.83 L717.10,435.83 L718.87,435.83 L720.65,435.83 L722.43,435.83 L724.20,435.83 L725.98,435.83 L727.76,435.83 L729.53,435.83 L731.31,435.83 L733.08,435.83 L734.86,435.83 L736.64,435.83 L738.41,435.83 L740.19,435.83 L741.97,435.83 L743.74,435.83 L745.52,435.83 L747.30,435.83 L749.07,435.83 L750.85,435.83 L752.63,435.83 L754.40,435.83 L756.18,435.83 L757.96,435.83 L759.73,435.84 L761.51,435.84 L763.28,435.84 L765.06,435.84 L766.84,435.84 L768.61,435.84 L770.39,435.84 L772.17,435.84 L773.94,435.84 L775.72,435.84 L777.50,435.84 L779.27,435.84 L781.05,435.84 L782.83,435.84 L784.60,435.84 L786.38,435.84 L788.15,435.84 L789.93,435.84 L791.71,435.84 L793.48,435.84 L795.26,435.84 L797.04,435.84 L798.81,435.84 L800.59,435.84 L802.37,435.84 L804.14,435.84 L805.92,435.84 L807.70,435.84 L809.47,435.85 L811.25,435.85 L813.02,435.85 L814.80,435.85 L816.58,435.85 L818.35,435.85 L820.13,435.85 L821.91,435.85 L823.68,435.85 L825.46,435.85 L827.24,435.85 L829.01,435.85 L830.79,435.85 L832.57,435.85 L834.34,435.85 L836.12,435.85 L837.89,435.85 L839.67,435.85 L841.45,435.85 L843.22,435.85 L845.00,435.85 L846.78,435.85 L848.55,435.85 L850.33,435.85 L852.11,435.85 L853.88,435.85 L855.66,435.85 L857.44,435.85" fill="none" stroke="#f7a11a" stroke-width="4.2" stroke-linejoin="round" clip-path="url(#cl37)"/>
<line x1="896.20" y1="435.84" x2="948.30" y2="435.84" stroke="#f7a11a" stroke-width="8.0" stroke-linecap="butt" stroke-opacity="0.45"/>
<line x1="896.20" y1="435.84" x2="948.30" y2="435.84" stroke="#f7a11a" stroke-width="4.2" stroke-linecap="butt" />
<circle cx="148.64" cy="446.76" r="8.3" fill="#f7a11a"/>
<circle cx="204.90" cy="441.54" r="8.3" fill="#f7a11a"/>
<circle cx="262.37" cy="440.16" r="8.3" fill="#f7a11a"/>
<circle cx="318.03" cy="438.82" r="8.3" fill="#f7a11a"/>
<circle cx="383.25" cy="437.27" r="8.3" fill="#f7a11a"/>
<circle cx="578.70" cy="435.29" r="8.3" fill="#f7a11a"/>
<circle cx="765.60" cy="435.14" r="8.3" fill="#f7a11a"/>
<circle cx="948.30" cy="435.14" r="8.3" fill="#ffa500"/>
<clipPath id="mk37f7a11a"><rect x="936.3" y="423.14" width="15.4" height="24.00"/></clipPath>
<circle cx="948.30" cy="435.14" r="8.3" fill="#f7a11a" clip-path="url(#mk37f7a11a)"/>
<path d="M855.0,37.0 L131.0,37.0 L131.0,543.0 L855.0,543.0" fill="none" stroke="#000" stroke-width="2.2" stroke-linejoin="miter" stroke-linecap="butt"/>
<path d="M896.2,37.0 L1000.3,37.0 L1000.3,543.0 L896.2,543.0" fill="none" stroke="#000" stroke-width="2.2" stroke-linejoin="miter"/>
<polygon points="851.40,46.60 855.00,46.60 858.60,28.00 855.00,28.00" fill="#000"/>
<line x1="853.10" y1="552.60" x2="856.90" y2="534.00" stroke="#000" stroke-width="3.5" stroke-linecap="butt" />
<polygon points="892.60,46.60 896.20,46.60 899.80,28.00 896.20,28.00" fill="#000"/>
<line x1="894.30" y1="552.60" x2="898.10" y2="534.00" stroke="#000" stroke-width="3.5" stroke-linecap="butt" />
<line x1="204.90" y1="37.00" x2="204.90" y2="50.90" stroke="#000" stroke-width="2.1" stroke-linecap="butt" />
<line x1="204.90" y1="543.00" x2="204.90" y2="529.10" stroke="#000" stroke-width="2.1" stroke-linecap="butt" />
<text x="179.71" y="573.50" font-size="28.4">10<tspan font-size="19.9" dy="-11.6" dx="0.4">0</tspan></text>
<line x1="391.80" y1="37.00" x2="391.80" y2="50.90" stroke="#000" stroke-width="2.1" stroke-linecap="butt" />
<line x1="391.80" y1="543.00" x2="391.80" y2="529.10" stroke="#000" stroke-width="2.1" stroke-linecap="butt" />
<text x="366.61" y="573.50" font-size="28.4">10<tspan font-size="19.9" dy="-11.6" dx="0.4">1</tspan></text>
<line x1="578.70" y1="37.00" x2="578.70" y2="50.90" stroke="#000" stroke-width="2.1" stroke-linecap="butt" />
<line x1="578.70" y1="543.00" x2="578.70" y2="529.10" stroke="#000" stroke-width="2.1" stroke-linecap="butt" />
<text x="553.51" y="573.50" font-size="28.4">10<tspan font-size="19.9" dy="-11.6" dx="0.4">2</tspan></text>
<line x1="765.60" y1="37.00" x2="765.60" y2="50.90" stroke="#000" stroke-width="2.1" stroke-linecap="butt" />
<line x1="765.60" y1="543.00" x2="765.60" y2="529.10" stroke="#000" stroke-width="2.1" stroke-linecap="butt" />
<text x="740.41" y="573.50" font-size="28.4">10<tspan font-size="19.9" dy="-11.6" dx="0.4">3</tspan></text>
<line x1="148.64" y1="37.00" x2="148.64" y2="43.95" stroke="#000" stroke-width="1.8" stroke-linecap="butt" />
<line x1="148.64" y1="543.00" x2="148.64" y2="536.05" stroke="#000" stroke-width="1.8" stroke-linecap="butt" />
<line x1="163.44" y1="37.00" x2="163.44" y2="43.95" stroke="#000" stroke-width="1.8" stroke-linecap="butt" />
<line x1="163.44" y1="543.00" x2="163.44" y2="536.05" stroke="#000" stroke-width="1.8" stroke-linecap="butt" />
<line x1="175.95" y1="37.00" x2="175.95" y2="43.95" stroke="#000" stroke-width="1.8" stroke-linecap="butt" />
<line x1="175.95" y1="543.00" x2="175.95" y2="536.05" stroke="#000" stroke-width="1.8" stroke-linecap="butt" />
<line x1="186.79" y1="37.00" x2="186.79" y2="43.95" stroke="#000" stroke-width="1.8" stroke-linecap="butt" />
<line x1="186.79" y1="543.00" x2="186.79" y2="536.05" stroke="#000" stroke-width="1.8" stroke-linecap="butt" />
<line x1="196.35" y1="37.00" x2="196.35" y2="43.95" stroke="#000" stroke-width="1.8" stroke-linecap="butt" />
<line x1="196.35" y1="543.00" x2="196.35" y2="536.05" stroke="#000" stroke-width="1.8" stroke-linecap="butt" />
<line x1="261.16" y1="37.00" x2="261.16" y2="43.95" stroke="#000" stroke-width="1.8" stroke-linecap="butt" />
<line x1="261.16" y1="543.00" x2="261.16" y2="536.05" stroke="#000" stroke-width="1.8" stroke-linecap="butt" />
<line x1="294.07" y1="37.00" x2="294.07" y2="43.95" stroke="#000" stroke-width="1.8" stroke-linecap="butt" />
<line x1="294.07" y1="543.00" x2="294.07" y2="536.05" stroke="#000" stroke-width="1.8" stroke-linecap="butt" />
<line x1="317.43" y1="37.00" x2="317.43" y2="43.95" stroke="#000" stroke-width="1.8" stroke-linecap="butt" />
<line x1="317.43" y1="543.00" x2="317.43" y2="536.05" stroke="#000" stroke-width="1.8" stroke-linecap="butt" />
<line x1="335.54" y1="37.00" x2="335.54" y2="43.95" stroke="#000" stroke-width="1.8" stroke-linecap="butt" />
<line x1="335.54" y1="543.00" x2="335.54" y2="536.05" stroke="#000" stroke-width="1.8" stroke-linecap="butt" />
<line x1="350.34" y1="37.00" x2="350.34" y2="43.95" stroke="#000" stroke-width="1.8" stroke-linecap="butt" />
<line x1="350.34" y1="543.00" x2="350.34" y2="536.05" stroke="#000" stroke-width="1.8" stroke-linecap="butt" />
<line x1="362.85" y1="37.00" x2="362.85" y2="43.95" stroke="#000" stroke-width="1.8" stroke-linecap="butt" />
<line x1="362.85" y1="543.00" x2="362.85" y2="536.05" stroke="#000" stroke-width="1.8" stroke-linecap="butt" />
<line x1="373.69" y1="37.00" x2="373.69" y2="43.95" stroke="#000" stroke-width="1.8" stroke-linecap="butt" />
<line x1="373.69" y1="543.00" x2="373.69" y2="536.05" stroke="#000" stroke-width="1.8" stroke-linecap="butt" />
<line x1="383.25" y1="37.00" x2="383.25" y2="43.95" stroke="#000" stroke-width="1.8" stroke-linecap="butt" />
<line x1="383.25" y1="543.00" x2="383.25" y2="536.05" stroke="#000" stroke-width="1.8" stroke-linecap="butt" />
<line x1="448.06" y1="37.00" x2="448.06" y2="43.95" stroke="#000" stroke-width="1.8" stroke-linecap="butt" />
<line x1="448.06" y1="543.00" x2="448.06" y2="536.05" stroke="#000" stroke-width="1.8" stroke-linecap="butt" />
<line x1="480.97" y1="37.00" x2="480.97" y2="43.95" stroke="#000" stroke-width="1.8" stroke-linecap="butt" />
<line x1="480.97" y1="543.00" x2="480.97" y2="536.05" stroke="#000" stroke-width="1.8" stroke-linecap="butt" />
<line x1="504.33" y1="37.00" x2="504.33" y2="43.95" stroke="#000" stroke-width="1.8" stroke-linecap="butt" />
<line x1="504.33" y1="543.00" x2="504.33" y2="536.05" stroke="#000" stroke-width="1.8" stroke-linecap="butt" />
<line x1="522.44" y1="37.00" x2="522.44" y2="43.95" stroke="#000" stroke-width="1.8" stroke-linecap="butt" />
<line x1="522.44" y1="543.00" x2="522.44" y2="536.05" stroke="#000" stroke-width="1.8" stroke-linecap="butt" />
<line x1="537.24" y1="37.00" x2="537.24" y2="43.95" stroke="#000" stroke-width="1.8" stroke-linecap="butt" />
<line x1="537.24" y1="543.00" x2="537.24" y2="536.05" stroke="#000" stroke-width="1.8" stroke-linecap="butt" />
<line x1="549.75" y1="37.00" x2="549.75" y2="43.95" stroke="#000" stroke-width="1.8" stroke-linecap="butt" />
<line x1="549.75" y1="543.00" x2="549.75" y2="536.05" stroke="#000" stroke-width="1.8" stroke-linecap="butt" />
<line x1="560.59" y1="37.00" x2="560.59" y2="43.95" stroke="#000" stroke-width="1.8" stroke-linecap="butt" />
<line x1="560.59" y1="543.00" x2="560.59" y2="536.05" stroke="#000" stroke-width="1.8" stroke-linecap="butt" />
<line x1="570.15" y1="37.00" x2="570.15" y2="43.95" stroke="#000" stroke-width="1.8" stroke-linecap="butt" />
<line x1="570.15" y1="543.00" x2="570.15" y2="536.05" stroke="#000" stroke-width="1.8" stroke-linecap="butt" />
<line x1="634.96" y1="37.00" x2="634.96" y2="43.95" stroke="#000" stroke-width="1.8" stroke-linecap="butt" />
<line x1="634.96" y1="543.00" x2="634.96" y2="536.05" stroke="#000" stroke-width="1.8" stroke-linecap="butt" />
<line x1="667.87" y1="37.00" x2="667.87" y2="43.95" stroke="#000" stroke-width="1.8" stroke-linecap="butt" />
<line x1="667.87" y1="543.00" x2="667.87" y2="536.05" stroke="#000" stroke-width="1.8" stroke-linecap="butt" />
<line x1="691.23" y1="37.00" x2="691.23" y2="43.95" stroke="#000" stroke-width="1.8" stroke-linecap="butt" />
<line x1="691.23" y1="543.00" x2="691.23" y2="536.05" stroke="#000" stroke-width="1.8" stroke-linecap="butt" />
<line x1="709.34" y1="37.00" x2="709.34" y2="43.95" stroke="#000" stroke-width="1.8" stroke-linecap="butt" />
<line x1="709.34" y1="543.00" x2="709.34" y2="536.05" stroke="#000" stroke-width="1.8" stroke-linecap="butt" />
<line x1="724.14" y1="37.00" x2="724.14" y2="43.95" stroke="#000" stroke-width="1.8" stroke-linecap="butt" />
<line x1="724.14" y1="543.00" x2="724.14" y2="536.05" stroke="#000" stroke-width="1.8" stroke-linecap="butt" />
<line x1="736.65" y1="37.00" x2="736.65" y2="43.95" stroke="#000" stroke-width="1.8" stroke-linecap="butt" />
<line x1="736.65" y1="543.00" x2="736.65" y2="536.05" stroke="#000" stroke-width="1.8" stroke-linecap="butt" />
<line x1="747.49" y1="37.00" x2="747.49" y2="43.95" stroke="#000" stroke-width="1.8" stroke-linecap="butt" />
<line x1="747.49" y1="543.00" x2="747.49" y2="536.05" stroke="#000" stroke-width="1.8" stroke-linecap="butt" />
<line x1="757.05" y1="37.00" x2="757.05" y2="43.95" stroke="#000" stroke-width="1.8" stroke-linecap="butt" />
<line x1="757.05" y1="543.00" x2="757.05" y2="536.05" stroke="#000" stroke-width="1.8" stroke-linecap="butt" />
<line x1="821.86" y1="37.00" x2="821.86" y2="43.95" stroke="#000" stroke-width="1.8" stroke-linecap="butt" />
<line x1="821.86" y1="543.00" x2="821.86" y2="536.05" stroke="#000" stroke-width="1.8" stroke-linecap="butt" />
<line x1="948.30" y1="37.00" x2="948.30" y2="50.90" stroke="#000" stroke-width="2.1" stroke-linecap="butt" />
<line x1="948.30" y1="543.00" x2="948.30" y2="529.10" stroke="#000" stroke-width="2.1" stroke-linecap="butt" />
<text x="947.50" y="572.10" font-size="28.4" text-anchor="middle">∞</text>
<line x1="131.00" y1="472.20" x2="144.90" y2="472.20" stroke="#000" stroke-width="2.1" stroke-linecap="butt" />
<line x1="1000.30" y1="472.20" x2="986.10" y2="472.20" stroke="#000" stroke-width="2.1" stroke-linecap="butt" />
<text x="122.10" y="483.60" font-size="28.4" text-anchor="end">0.010</text>
<line x1="131.00" y1="375.17" x2="144.90" y2="375.17" stroke="#000" stroke-width="2.1" stroke-linecap="butt" />
<line x1="1000.30" y1="375.17" x2="986.10" y2="375.17" stroke="#000" stroke-width="2.1" stroke-linecap="butt" />
<text x="122.10" y="386.57" font-size="28.4" text-anchor="end">0.015</text>
<line x1="131.00" y1="278.15" x2="144.90" y2="278.15" stroke="#000" stroke-width="2.1" stroke-linecap="butt" />
<line x1="1000.30" y1="278.15" x2="986.10" y2="278.15" stroke="#000" stroke-width="2.1" stroke-linecap="butt" />
<text x="122.10" y="289.55" font-size="28.4" text-anchor="end">0.020</text>
<line x1="131.00" y1="181.12" x2="144.90" y2="181.12" stroke="#000" stroke-width="2.1" stroke-linecap="butt" />
<line x1="1000.30" y1="181.12" x2="986.10" y2="181.12" stroke="#000" stroke-width="2.1" stroke-linecap="butt" />
<text x="122.10" y="192.52" font-size="28.4" text-anchor="end">0.025</text>
<line x1="131.00" y1="84.10" x2="144.90" y2="84.10" stroke="#000" stroke-width="2.1" stroke-linecap="butt" />
<line x1="1000.30" y1="84.10" x2="986.10" y2="84.10" stroke="#000" stroke-width="2.1" stroke-linecap="butt" />
<text x="122.10" y="95.50" font-size="28.4" text-anchor="end">0.030</text>
<line x1="131.00" y1="530.41" x2="137.95" y2="530.41" stroke="#000" stroke-width="1.8" stroke-linecap="butt" />
<line x1="1000.30" y1="530.41" x2="993.05" y2="530.41" stroke="#000" stroke-width="1.8" stroke-linecap="butt" />
<line x1="131.00" y1="511.01" x2="137.95" y2="511.01" stroke="#000" stroke-width="1.8" stroke-linecap="butt" />
<line x1="1000.30" y1="511.01" x2="993.05" y2="511.01" stroke="#000" stroke-width="1.8" stroke-linecap="butt" />
<line x1="131.00" y1="491.60" x2="137.95" y2="491.60" stroke="#000" stroke-width="1.8" stroke-linecap="butt" />
<line x1="1000.30" y1="491.60" x2="993.05" y2="491.60" stroke="#000" stroke-width="1.8" stroke-linecap="butt" />
<line x1="131.00" y1="452.79" x2="137.95" y2="452.79" stroke="#000" stroke-width="1.8" stroke-linecap="butt" />
<line x1="1000.30" y1="452.79" x2="993.05" y2="452.79" stroke="#000" stroke-width="1.8" stroke-linecap="butt" />
<line x1="131.00" y1="433.39" x2="137.95" y2="433.39" stroke="#000" stroke-width="1.8" stroke-linecap="butt" />
<line x1="1000.30" y1="433.39" x2="993.05" y2="433.39" stroke="#000" stroke-width="1.8" stroke-linecap="butt" />
<line x1="131.00" y1="413.99" x2="137.95" y2="413.99" stroke="#000" stroke-width="1.8" stroke-linecap="butt" />
<line x1="1000.30" y1="413.99" x2="993.05" y2="413.99" stroke="#000" stroke-width="1.8" stroke-linecap="butt" />
<line x1="131.00" y1="394.58" x2="137.95" y2="394.58" stroke="#000" stroke-width="1.8" stroke-linecap="butt" />
<line x1="1000.30" y1="394.58" x2="993.05" y2="394.58" stroke="#000" stroke-width="1.8" stroke-linecap="butt" />
<line x1="131.00" y1="355.77" x2="137.95" y2="355.77" stroke="#000" stroke-width="1.8" stroke-linecap="butt" />
<line x1="1000.30" y1="355.77" x2="993.05" y2="355.77" stroke="#000" stroke-width="1.8" stroke-linecap="butt" />
<line x1="131.00" y1="336.36" x2="137.95" y2="336.36" stroke="#000" stroke-width="1.8" stroke-linecap="butt" />
<line x1="1000.30" y1="336.36" x2="993.05" y2="336.36" stroke="#000" stroke-width="1.8" stroke-linecap="butt" />
<line x1="131.00" y1="316.96" x2="137.95" y2="316.96" stroke="#000" stroke-width="1.8" stroke-linecap="butt" />
<line x1="1000.30" y1="316.96" x2="993.05" y2="316.96" stroke="#000" stroke-width="1.8" stroke-linecap="butt" />
<line x1="131.00" y1="297.55" x2="137.95" y2="297.55" stroke="#000" stroke-width="1.8" stroke-linecap="butt" />
<line x1="1000.30" y1="297.55" x2="993.05" y2="297.55" stroke="#000" stroke-width="1.8" stroke-linecap="butt" />
<line x1="131.00" y1="258.74" x2="137.95" y2="258.74" stroke="#000" stroke-width="1.8" stroke-linecap="butt" />
<line x1="1000.30" y1="258.74" x2="993.05" y2="258.74" stroke="#000" stroke-width="1.8" stroke-linecap="butt" />
<line x1="131.00" y1="239.34" x2="137.95" y2="239.34" stroke="#000" stroke-width="1.8" stroke-linecap="butt" />
<line x1="1000.30" y1="239.34" x2="993.05" y2="239.34" stroke="#000" stroke-width="1.8" stroke-linecap="butt" />
<line x1="131.00" y1="219.93" x2="137.95" y2="219.93" stroke="#000" stroke-width="1.8" stroke-linecap="butt" />
<line x1="1000.30" y1="219.93" x2="993.05" y2="219.93" stroke="#000" stroke-width="1.8" stroke-linecap="butt" />
<line x1="131.00" y1="200.53" x2="137.95" y2="200.53" stroke="#000" stroke-width="1.8" stroke-linecap="butt" />
<line x1="1000.30" y1="200.53" x2="993.05" y2="200.53" stroke="#000" stroke-width="1.8" stroke-linecap="butt" />
<line x1="131.00" y1="161.72" x2="137.95" y2="161.72" stroke="#000" stroke-width="1.8" stroke-linecap="butt" />
<line x1="1000.30" y1="161.72" x2="993.05" y2="161.72" stroke="#000" stroke-width="1.8" stroke-linecap="butt" />
<line x1="131.00" y1="142.31" x2="137.95" y2="142.31" stroke="#000" stroke-width="1.8" stroke-linecap="butt" />
<line x1="1000.30" y1="142.31" x2="993.05" y2="142.31" stroke="#000" stroke-width="1.8" stroke-linecap="butt" />
<line x1="131.00" y1="122.91" x2="137.95" y2="122.91" stroke="#000" stroke-width="1.8" stroke-linecap="butt" />
<line x1="1000.30" y1="122.91" x2="993.05" y2="122.91" stroke="#000" stroke-width="1.8" stroke-linecap="butt" />
<line x1="131.00" y1="103.50" x2="137.95" y2="103.50" stroke="#000" stroke-width="1.8" stroke-linecap="butt" />
<line x1="1000.30" y1="103.50" x2="993.05" y2="103.50" stroke="#000" stroke-width="1.8" stroke-linecap="butt" />
<line x1="131.00" y1="64.69" x2="137.95" y2="64.69" stroke="#000" stroke-width="1.8" stroke-linecap="butt" />
<line x1="1000.30" y1="64.69" x2="993.05" y2="64.69" stroke="#000" stroke-width="1.8" stroke-linecap="butt" />
<line x1="131.00" y1="45.29" x2="137.95" y2="45.29" stroke="#000" stroke-width="1.8" stroke-linecap="butt" />
<line x1="1000.30" y1="45.29" x2="993.05" y2="45.29" stroke="#000" stroke-width="1.8" stroke-linecap="butt" />
<text x="493.00" y="23.30" font-size="31.2" text-anchor="middle">(a) Code-capacity noise</text>
<text x="492.20" y="613.10" font-size="31.2" text-anchor="middle">Noise bias <tspan font-style="italic">η</tspan></text>
<text transform="translate(24,291.50) rotate(-90)" font-size="31.2" text-anchor="middle">Threshold <tspan font-style="italic">p</tspan><tspan font-size="21.85" dy="5">th</tspan></text>
<clipPath id="clslate"><polygon points="151,443.6 197,430.6 197,462 151,462"/></clipPath>
<path d="M148.64,446.76 L150.58,445.94 L152.52,445.13 L154.46,444.32 L156.40,443.53 L158.34,442.74 L160.28,441.96 L162.22,441.19 L164.16,440.42 L166.10,439.66 L168.04,438.91 L169.98,438.16 L171.92,437.41 L173.86,436.67 L175.80,435.94 L177.74,435.20 L179.68,434.47 L181.62,433.74 L183.56,433.02 L185.50,432.29 L187.44,431.57 L189.38,430.84 L191.32,430.12 L193.26,429.39 L195.20,428.67 L197.14,427.94 L199.08,427.21 L201.02,426.48 L202.96,425.75 L204.90,425.01" fill="none" stroke="#2a4ea0" stroke-width="5.0" clip-path="url(#clslate)"/>
<circle cx="148.64" cy="446.76" r="8.3" fill="#f7a11a"/>
<circle cx="204.90" cy="425.01" r="8.3" fill="#0000ff"/>
<rect x="653.0" y="124.9" width="341.0" height="229.99999999999997" fill="#fff"/>
<clipPath id="clin"><rect x="653.0" y="124.9" width="341.0" height="229.99999999999997"/></clipPath>
<line x1="689.80" y1="124.90" x2="689.80" y2="139.80" stroke="#000" stroke-width="2.0" stroke-linecap="butt" />
<line x1="689.80" y1="354.90" x2="689.80" y2="341.10" stroke="#000" stroke-width="2.0" stroke-linecap="butt" />
<text x="665.60" y="383.80" font-size="26.2">10<tspan font-size="18.34" dy="-9.9" dx="0.4">0</tspan></text>
<line x1="781.45" y1="124.90" x2="781.45" y2="139.80" stroke="#000" stroke-width="2.0" stroke-linecap="butt" />
<line x1="781.45" y1="354.90" x2="781.45" y2="341.10" stroke="#000" stroke-width="2.0" stroke-linecap="butt" />
<text x="757.25" y="383.80" font-size="26.2">10<tspan font-size="18.34" dy="-9.9" dx="0.4">1</tspan></text>
<line x1="873.10" y1="124.90" x2="873.10" y2="139.80" stroke="#000" stroke-width="2.0" stroke-linecap="butt" />
<line x1="873.10" y1="354.90" x2="873.10" y2="341.10" stroke="#000" stroke-width="2.0" stroke-linecap="butt" />
<text x="848.90" y="383.80" font-size="26.2">10<tspan font-size="18.34" dy="-9.9" dx="0.4">2</tspan></text>
<line x1="964.75" y1="124.90" x2="964.75" y2="139.80" stroke="#000" stroke-width="2.0" stroke-linecap="butt" />
<line x1="964.75" y1="354.90" x2="964.75" y2="341.10" stroke="#000" stroke-width="2.0" stroke-linecap="butt" />
<text x="940.55" y="383.80" font-size="26.2">10<tspan font-size="18.34" dy="-9.9" dx="0.4">3</tspan></text>
<line x1="662.21" y1="124.90" x2="662.21" y2="134.80" stroke="#000" stroke-width="1.3" stroke-linecap="butt" />
<line x1="662.21" y1="354.90" x2="662.21" y2="346.10" stroke="#000" stroke-width="1.3" stroke-linecap="butt" />
<line x1="669.47" y1="124.90" x2="669.47" y2="134.80" stroke="#000" stroke-width="1.3" stroke-linecap="butt" />
<line x1="669.47" y1="354.90" x2="669.47" y2="346.10" stroke="#000" stroke-width="1.3" stroke-linecap="butt" />
<line x1="675.60" y1="124.90" x2="675.60" y2="134.80" stroke="#000" stroke-width="1.3" stroke-linecap="butt" />
<line x1="675.60" y1="354.90" x2="675.60" y2="346.10" stroke="#000" stroke-width="1.3" stroke-linecap="butt" />
<line x1="680.92" y1="124.90" x2="680.92" y2="134.80" stroke="#000" stroke-width="1.3" stroke-linecap="butt" />
<line x1="680.92" y1="354.90" x2="680.92" y2="346.10" stroke="#000" stroke-width="1.3" stroke-linecap="butt" />
<line x1="685.61" y1="124.90" x2="685.61" y2="134.80" stroke="#000" stroke-width="1.3" stroke-linecap="butt" />
<line x1="685.61" y1="354.90" x2="685.61" y2="346.10" stroke="#000" stroke-width="1.3" stroke-linecap="butt" />
<line x1="717.39" y1="124.90" x2="717.39" y2="134.80" stroke="#000" stroke-width="1.3" stroke-linecap="butt" />
<line x1="717.39" y1="354.90" x2="717.39" y2="346.10" stroke="#000" stroke-width="1.3" stroke-linecap="butt" />
<line x1="733.53" y1="124.90" x2="733.53" y2="134.80" stroke="#000" stroke-width="1.3" stroke-linecap="butt" />
<line x1="733.53" y1="354.90" x2="733.53" y2="346.10" stroke="#000" stroke-width="1.3" stroke-linecap="butt" />
<line x1="744.98" y1="124.90" x2="744.98" y2="134.80" stroke="#000" stroke-width="1.3" stroke-linecap="butt" />
<line x1="744.98" y1="354.90" x2="744.98" y2="346.10" stroke="#000" stroke-width="1.3" stroke-linecap="butt" />
<line x1="753.86" y1="124.90" x2="753.86" y2="134.80" stroke="#000" stroke-width="1.3" stroke-linecap="butt" />
<line x1="753.86" y1="354.90" x2="753.86" y2="346.10" stroke="#000" stroke-width="1.3" stroke-linecap="butt" />
<line x1="761.12" y1="124.90" x2="761.12" y2="134.80" stroke="#000" stroke-width="1.3" stroke-linecap="butt" />
<line x1="761.12" y1="354.90" x2="761.12" y2="346.10" stroke="#000" stroke-width="1.3" stroke-linecap="butt" />
<line x1="767.25" y1="124.90" x2="767.25" y2="134.80" stroke="#000" stroke-width="1.3" stroke-linecap="butt" />
<line x1="767.25" y1="354.90" x2="767.25" y2="346.10" stroke="#000" stroke-width="1.3" stroke-linecap="butt" />
<line x1="772.57" y1="124.90" x2="772.57" y2="134.80" stroke="#000" stroke-width="1.3" stroke-linecap="butt" />
<line x1="772.57" y1="354.90" x2="772.57" y2="346.10" stroke="#000" stroke-width="1.3" stroke-linecap="butt" />
<line x1="777.26" y1="124.90" x2="777.26" y2="134.80" stroke="#000" stroke-width="1.3" stroke-linecap="butt" />
<line x1="777.26" y1="354.90" x2="777.26" y2="346.10" stroke="#000" stroke-width="1.3" stroke-linecap="butt" />
<line x1="809.04" y1="124.90" x2="809.04" y2="134.80" stroke="#000" stroke-width="1.3" stroke-linecap="butt" />
<line x1="809.04" y1="354.90" x2="809.04" y2="346.10" stroke="#000" stroke-width="1.3" stroke-linecap="butt" />
<line x1="825.18" y1="124.90" x2="825.18" y2="134.80" stroke="#000" stroke-width="1.3" stroke-linecap="butt" />
<line x1="825.18" y1="354.90" x2="825.18" y2="346.10" stroke="#000" stroke-width="1.3" stroke-linecap="butt" />
<line x1="836.63" y1="124.90" x2="836.63" y2="134.80" stroke="#000" stroke-width="1.3" stroke-linecap="butt" />
<line x1="836.63" y1="354.90" x2="836.63" y2="346.10" stroke="#000" stroke-width="1.3" stroke-linecap="butt" />
<line x1="845.51" y1="124.90" x2="845.51" y2="134.80" stroke="#000" stroke-width="1.3" stroke-linecap="butt" />
<line x1="845.51" y1="354.90" x2="845.51" y2="346.10" stroke="#000" stroke-width="1.3" stroke-linecap="butt" />
<line x1="852.77" y1="124.90" x2="852.77" y2="134.80" stroke="#000" stroke-width="1.3" stroke-linecap="butt" />
<line x1="852.77" y1="354.90" x2="852.77" y2="346.10" stroke="#000" stroke-width="1.3" stroke-linecap="butt" />
<line x1="858.90" y1="124.90" x2="858.90" y2="134.80" stroke="#000" stroke-width="1.3" stroke-linecap="butt" />
<line x1="858.90" y1="354.90" x2="858.90" y2="346.10" stroke="#000" stroke-width="1.3" stroke-linecap="butt" />
<line x1="864.22" y1="124.90" x2="864.22" y2="134.80" stroke="#000" stroke-width="1.3" stroke-linecap="butt" />
<line x1="864.22" y1="354.90" x2="864.22" y2="346.10" stroke="#000" stroke-width="1.3" stroke-linecap="butt" />
<line x1="868.91" y1="124.90" x2="868.91" y2="134.80" stroke="#000" stroke-width="1.3" stroke-linecap="butt" />
<line x1="868.91" y1="354.90" x2="868.91" y2="346.10" stroke="#000" stroke-width="1.3" stroke-linecap="butt" />
<line x1="900.69" y1="124.90" x2="900.69" y2="134.80" stroke="#000" stroke-width="1.3" stroke-linecap="butt" />
<line x1="900.69" y1="354.90" x2="900.69" y2="346.10" stroke="#000" stroke-width="1.3" stroke-linecap="butt" />
<line x1="916.83" y1="124.90" x2="916.83" y2="134.80" stroke="#000" stroke-width="1.3" stroke-linecap="butt" />
<line x1="916.83" y1="354.90" x2="916.83" y2="346.10" stroke="#000" stroke-width="1.3" stroke-linecap="butt" />
<line x1="928.28" y1="124.90" x2="928.28" y2="134.80" stroke="#000" stroke-width="1.3" stroke-linecap="butt" />
<line x1="928.28" y1="354.90" x2="928.28" y2="346.10" stroke="#000" stroke-width="1.3" stroke-linecap="butt" />
<line x1="937.16" y1="124.90" x2="937.16" y2="134.80" stroke="#000" stroke-width="1.3" stroke-linecap="butt" />
<line x1="937.16" y1="354.90" x2="937.16" y2="346.10" stroke="#000" stroke-width="1.3" stroke-linecap="butt" />
<line x1="944.42" y1="124.90" x2="944.42" y2="134.80" stroke="#000" stroke-width="1.3" stroke-linecap="butt" />
<line x1="944.42" y1="354.90" x2="944.42" y2="346.10" stroke="#000" stroke-width="1.3" stroke-linecap="butt" />
<line x1="950.55" y1="124.90" x2="950.55" y2="134.80" stroke="#000" stroke-width="1.3" stroke-linecap="butt" />
<line x1="950.55" y1="354.90" x2="950.55" y2="346.10" stroke="#000" stroke-width="1.3" stroke-linecap="butt" />
<line x1="955.87" y1="124.90" x2="955.87" y2="134.80" stroke="#000" stroke-width="1.3" stroke-linecap="butt" />
<line x1="955.87" y1="354.90" x2="955.87" y2="346.10" stroke="#000" stroke-width="1.3" stroke-linecap="butt" />
<line x1="960.56" y1="124.90" x2="960.56" y2="134.80" stroke="#000" stroke-width="1.3" stroke-linecap="butt" />
<line x1="960.56" y1="354.90" x2="960.56" y2="346.10" stroke="#000" stroke-width="1.3" stroke-linecap="butt" />
<line x1="992.34" y1="124.90" x2="992.34" y2="134.80" stroke="#000" stroke-width="1.3" stroke-linecap="butt" />
<line x1="992.34" y1="354.90" x2="992.34" y2="346.10" stroke="#000" stroke-width="1.3" stroke-linecap="butt" />
<line x1="653.00" y1="313.50" x2="667.50" y2="313.50" stroke="#000" stroke-width="2.0" stroke-linecap="butt" />
<line x1="994.00" y1="313.50" x2="980.10" y2="313.50" stroke="#000" stroke-width="2.0" stroke-linecap="butt" />
<text x="643.40" y="323.70" font-size="26.2" text-anchor="end">0.0114</text>
<line x1="653.00" y1="243.75" x2="667.50" y2="243.75" stroke="#000" stroke-width="2.0" stroke-linecap="butt" />
<line x1="994.00" y1="243.75" x2="980.10" y2="243.75" stroke="#000" stroke-width="2.0" stroke-linecap="butt" />
<text x="643.40" y="253.95" font-size="26.2" text-anchor="end">0.0116</text>
<line x1="653.00" y1="174.00" x2="667.50" y2="174.00" stroke="#000" stroke-width="2.0" stroke-linecap="butt" />
<line x1="994.00" y1="174.00" x2="980.10" y2="174.00" stroke="#000" stroke-width="2.0" stroke-linecap="butt" />
<text x="643.40" y="184.20" font-size="26.2" text-anchor="end">0.0118</text>
<line x1="653.00" y1="348.38" x2="662.90" y2="348.38" stroke="#000" stroke-width="1.3" stroke-linecap="butt" />
<line x1="994.00" y1="348.38" x2="984.30" y2="348.38" stroke="#000" stroke-width="1.3" stroke-linecap="butt" />
<line x1="653.00" y1="278.62" x2="662.90" y2="278.62" stroke="#000" stroke-width="1.3" stroke-linecap="butt" />
<line x1="994.00" y1="278.62" x2="984.30" y2="278.62" stroke="#000" stroke-width="1.3" stroke-linecap="butt" />
<line x1="653.00" y1="208.87" x2="662.90" y2="208.87" stroke="#000" stroke-width="1.3" stroke-linecap="butt" />
<line x1="994.00" y1="208.87" x2="984.30" y2="208.87" stroke="#000" stroke-width="1.3" stroke-linecap="butt" />
<line x1="653.00" y1="139.12" x2="662.90" y2="139.12" stroke="#000" stroke-width="1.3" stroke-linecap="butt" />
<line x1="994.00" y1="139.12" x2="984.30" y2="139.12" stroke="#000" stroke-width="1.3" stroke-linecap="butt" />
<path d="M662.21,344.54 L663.08,340.78 L663.95,337.13 L664.81,333.58 L665.68,330.13 L666.55,326.78 L667.42,323.53 L668.29,320.38 L669.15,317.32 L670.02,314.36 L670.89,311.49 L671.76,308.71 L672.62,306.01 L673.49,303.40 L674.36,300.88 L675.23,298.44 L676.10,296.08 L676.96,293.80 L677.83,291.59 L678.70,289.47 L679.57,287.41 L680.44,285.43 L681.30,283.52 L682.17,281.68 L683.04,279.90 L683.91,278.19 L684.77,276.55 L685.64,274.96 L686.51,273.43 L687.38,271.97 L688.25,270.55 L689.11,269.20 L689.98,267.89 L690.85,266.64 L691.72,265.44 L692.58,264.28 L693.45,263.17 L694.32,262.11 L695.19,261.08 L696.06,260.10 L696.92,259.15 L697.79,258.24 L698.66,257.37 L699.53,256.53 L700.40,255.73 L701.26,254.95 L702.13,254.20 L703.00,253.48 L703.87,252.78 L704.73,252.10 L705.60,251.45 L706.47,250.81 L707.34,250.20 L708.21,249.59 L709.07,249.01 L709.94,248.43 L710.81,247.87 L711.68,247.31 L712.55,246.76 L713.41,246.22 L714.28,245.68 L715.15,245.14 L716.02,244.61 L716.88,244.07 L717.75,243.52 L718.62,242.98 L719.49,242.42 L720.36,241.87 L721.22,241.31 L722.09,240.75 L722.96,240.19 L723.83,239.62 L724.69,239.06 L725.56,238.49 L726.43,237.92 L727.30,237.35 L728.17,236.78 L729.03,236.21 L729.90,235.64 L730.77,235.08 L731.64,234.51 L732.51,233.95 L733.37,233.39 L734.24,232.83 L735.11,232.28 L735.98,231.72 L736.84,231.18 L737.71,230.63 L738.58,230.10 L739.45,229.56 L740.32,229.04 L741.18,228.51 L742.05,228.00 L742.92,227.49 L743.79,226.99 L744.66,226.49 L745.52,226.01 L746.39,225.53 L747.26,225.06 L748.13,224.60 L748.99,224.14 L749.86,223.69 L750.73,223.25 L751.60,222.82 L752.47,222.39 L753.33,221.97 L754.20,221.56 L755.07,221.15 L755.94,220.75 L756.80,220.36 L757.67,219.97 L758.54,219.58 L759.41,219.20 L760.28,218.83 L761.14,218.46 L762.01,218.10 L762.88,217.74 L763.75,217.39 L764.62,217.04 L765.48,216.69 L766.35,216.35 L767.22,216.02 L768.09,215.69 L768.95,215.36 L769.82,215.03 L770.69,214.71 L771.56,214.39 L772.43,214.07 L773.29,213.76 L774.16,213.45 L775.03,213.14 L775.90,212.84 L776.77,212.53 L777.63,212.23 L778.50,211.93 L779.37,211.63 L780.24,211.34 L781.10,211.05 L781.97,210.75 L782.84,210.46 L783.71,210.18 L784.58,209.89 L785.44,209.61 L786.31,209.32 L787.18,209.04 L788.05,208.77 L788.92,208.49 L789.78,208.22 L790.65,207.94 L791.52,207.67 L792.39,207.40 L793.25,207.14 L794.12,206.87 L794.99,206.61 L795.86,206.35 L796.73,206.09 L797.59,205.84 L798.46,205.58 L799.33,205.33 L800.20,205.08 L801.06,204.83 L801.93,204.58 L802.80,204.34 L803.67,204.10 L804.54,203.86 L805.40,203.62 L806.27,203.38 L807.14,203.15 L808.01,202.91 L808.88,202.68 L809.74,202.46 L810.61,202.23 L811.48,202.01 L812.35,201.78 L813.21,201.56 L814.08,201.34 L814.95,201.13 L815.82,200.91 L816.69,200.70 L817.55,200.49 L818.42,200.28 L819.29,200.08 L820.16,199.87 L821.03,199.67 L821.89,199.47 L822.76,199.27 L823.63,199.08 L824.50,198.89 L825.36,198.69 L826.23,198.50 L827.10,198.32 L827.97,198.13 L828.84,197.95 L829.70,197.77 L830.57,197.59 L831.44,197.41 L832.31,197.24 L833.17,197.06 L834.04,196.89 L834.91,196.73 L835.78,196.56 L836.65,196.39 L837.51,196.23 L838.38,196.07 L839.25,195.91 L840.12,195.76 L840.99,195.61 L841.85,195.45 L842.72,195.30 L843.59,195.16 L844.46,195.01 L845.32,194.87 L846.19,194.73 L847.06,194.59 L847.93,194.45 L848.80,194.32 L849.66,194.19 L850.53,194.06 L851.40,193.93 L852.27,193.80 L853.14,193.68 L854.00,193.56 L854.87,193.44 L855.74,193.32 L856.61,193.21 L857.47,193.09 L858.34,192.98 L859.21,192.87 L860.08,192.77 L860.95,192.66 L861.81,192.56 L862.68,192.46 L863.55,192.36 L864.42,192.27 L865.28,192.18 L866.15,192.09 L867.02,192.00 L867.89,191.91 L868.76,191.83 L869.62,191.74 L870.49,191.66 L871.36,191.59 L872.23,191.51 L873.10,191.44 L873.96,191.37 L874.83,191.30 L875.70,191.23 L876.57,191.17 L877.43,191.11 L878.30,191.05 L879.17,190.99 L880.04,190.93 L880.91,190.88 L881.77,190.83 L882.64,190.78 L883.51,190.73 L884.38,190.68 L885.25,190.64 L886.11,190.60 L886.98,190.55 L887.85,190.52 L888.72,190.48 L889.58,190.44 L890.45,190.41 L891.32,190.38 L892.19,190.35 L893.06,190.32 L893.92,190.30 L894.79,190.27 L895.66,190.25 L896.53,190.23 L897.39,190.21 L898.26,190.19 L899.13,190.17 L900.00,190.16 L900.87,190.14 L901.73,190.13 L902.60,190.12 L903.47,190.11 L904.34,190.10 L905.21,190.09 L906.07,190.09 L906.94,190.08 L907.81,190.08 L908.68,190.08 L909.54,190.08 L910.41,190.08 L911.28,190.08 L912.15,190.08 L913.02,190.09 L913.88,190.09 L914.75,190.10 L915.62,190.11 L916.49,190.11 L917.36,190.12 L918.22,190.13 L919.09,190.14 L919.96,190.16 L920.83,190.17 L921.69,190.18 L922.56,190.20 L923.43,190.21 L924.30,190.23 L925.17,190.25 L926.03,190.26 L926.90,190.28 L927.77,190.30 L928.64,190.32 L929.50,190.34 L930.37,190.36 L931.24,190.39 L932.11,190.41 L932.98,190.43 L933.84,190.46 L934.71,190.48 L935.58,190.50 L936.45,190.53 L937.32,190.55 L938.18,190.58 L939.05,190.61 L939.92,190.63 L940.79,190.66 L941.65,190.69 L942.52,190.71 L943.39,190.74 L944.26,190.77 L945.13,190.80 L945.99,190.83 L946.86,190.85 L947.73,190.88 L948.60,190.91 L949.47,190.94 L950.33,190.97 L951.20,191.00 L952.07,191.03 L952.94,191.06 L953.80,191.09 L954.67,191.11 L955.54,191.14 L956.41,191.17 L957.28,191.20 L958.14,191.23 L959.01,191.26 L959.88,191.29 L960.75,191.31 L961.61,191.34 L962.48,191.37 L963.35,191.39 L964.22,191.42 L965.09,191.45 L965.95,191.47 L966.82,191.50 L967.69,191.52 L968.56,191.55 L969.43,191.57 L970.29,191.60 L971.16,191.62 L972.03,191.64 L972.90,191.67 L973.76,191.69 L974.63,191.71 L975.50,191.73 L976.37,191.76 L977.24,191.78 L978.10,191.80 L978.97,191.82 L979.84,191.84 L980.71,191.86 L981.58,191.88 L982.44,191.90 L983.31,191.92 L984.18,191.93 L985.05,191.95 L985.91,191.97 L986.78,191.99 L987.65,192.00 L988.52,192.02 L989.39,192.04 L990.25,192.05 L991.12,192.07 L991.99,192.09 L992.86,192.10 L993.72,192.12 L994.59,192.13 L995.46,192.14 L996.33,192.16 L997.20,192.17 L998.06,192.19 L998.93,192.20 L999.80,192.21 L1000.67,192.22 L1001.54,192.24 L1002.40,192.25 L1003.27,192.26 L1004.14,192.27 L1005.01,192.28 L1005.87,192.29 L1006.74,192.30 L1007.61,192.31 L1008.48,192.32" fill="none" stroke="#ed1c24" stroke-width="7.4" stroke-opacity="0.3" clip-path="url(#clin)"/>
<path d="M662.21,344.54 L663.08,340.78 L663.95,337.13 L664.81,333.58 L665.68,330.13 L666.55,326.78 L667.42,323.53 L668.29,320.38 L669.15,317.32 L670.02,314.36 L670.89,311.49 L671.76,308.71 L672.62,306.01 L673.49,303.40 L674.36,300.88 L675.23,298.44 L676.10,296.08 L676.96,293.80 L677.83,291.59 L678.70,289.47 L679.57,287.41 L680.44,285.43 L681.30,283.52 L682.17,281.68 L683.04,279.90 L683.91,278.19 L684.77,276.55 L685.64,274.96 L686.51,273.43 L687.38,271.97 L688.25,270.55 L689.11,269.20 L689.98,267.89 L690.85,266.64 L691.72,265.44 L692.58,264.28 L693.45,263.17 L694.32,262.11 L695.19,261.08 L696.06,260.10 L696.92,259.15 L697.79,258.24 L698.66,257.37 L699.53,256.53 L700.40,255.73 L701.26,254.95 L702.13,254.20 L703.00,253.48 L703.87,252.78 L704.73,252.10 L705.60,251.45 L706.47,250.81 L707.34,250.20 L708.21,249.59 L709.07,249.01 L709.94,248.43 L710.81,247.87 L711.68,247.31 L712.55,246.76 L713.41,246.22 L714.28,245.68 L715.15,245.14 L716.02,244.61 L716.88,244.07 L717.75,243.52 L718.62,242.98 L719.49,242.42 L720.36,241.87 L721.22,241.31 L722.09,240.75 L722.96,240.19 L723.83,239.62 L724.69,239.06 L725.56,238.49 L726.43,237.92 L727.30,237.35 L728.17,236.78 L729.03,236.21 L729.90,235.64 L730.77,235.08 L731.64,234.51 L732.51,233.95 L733.37,233.39 L734.24,232.83 L735.11,232.28 L735.98,231.72 L736.84,231.18 L737.71,230.63 L738.58,230.10 L739.45,229.56 L740.32,229.04 L741.18,228.51 L742.05,228.00 L742.92,227.49 L743.79,226.99 L744.66,226.49 L745.52,226.01 L746.39,225.53 L747.26,225.06 L748.13,224.60 L748.99,224.14 L749.86,223.69 L750.73,223.25 L751.60,222.82 L752.47,222.39 L753.33,221.97 L754.20,221.56 L755.07,221.15 L755.94,220.75 L756.80,220.36 L757.67,219.97 L758.54,219.58 L759.41,219.20 L760.28,218.83 L761.14,218.46 L762.01,218.10 L762.88,217.74 L763.75,217.39 L764.62,217.04 L765.48,216.69 L766.35,216.35 L767.22,216.02 L768.09,215.69 L768.95,215.36 L769.82,215.03 L770.69,214.71 L771.56,214.39 L772.43,214.07 L773.29,213.76 L774.16,213.45 L775.03,213.14 L775.90,212.84 L776.77,212.53 L777.63,212.23 L778.50,211.93 L779.37,211.63 L780.24,211.34 L781.10,211.05 L781.97,210.75 L782.84,210.46 L783.71,210.18 L784.58,209.89 L785.44,209.61 L786.31,209.32 L787.18,209.04 L788.05,208.77 L788.92,208.49 L789.78,208.22 L790.65,207.94 L791.52,207.67 L792.39,207.40 L793.25,207.14 L794.12,206.87 L794.99,206.61 L795.86,206.35 L796.73,206.09 L797.59,205.84 L798.46,205.58 L799.33,205.33 L800.20,205.08 L801.06,204.83 L801.93,204.58 L802.80,204.34 L803.67,204.10 L804.54,203.86 L805.40,203.62 L806.27,203.38 L807.14,203.15 L808.01,202.91 L808.88,202.68 L809.74,202.46 L810.61,202.23 L811.48,202.01 L812.35,201.78 L813.21,201.56 L814.08,201.34 L814.95,201.13 L815.82,200.91 L816.69,200.70 L817.55,200.49 L818.42,200.28 L819.29,200.08 L820.16,199.87 L821.03,199.67 L821.89,199.47 L822.76,199.27 L823.63,199.08 L824.50,198.89 L825.36,198.69 L826.23,198.50 L827.10,198.32 L827.97,198.13 L828.84,197.95 L829.70,197.77 L830.57,197.59 L831.44,197.41 L832.31,197.24 L833.17,197.06 L834.04,196.89 L834.91,196.73 L835.78,196.56 L836.65,196.39 L837.51,196.23 L838.38,196.07 L839.25,195.91 L840.12,195.76 L840.99,195.61 L841.85,195.45 L842.72,195.30 L843.59,195.16 L844.46,195.01 L845.32,194.87 L846.19,194.73 L847.06,194.59 L847.93,194.45 L848.80,194.32 L849.66,194.19 L850.53,194.06 L851.40,193.93 L852.27,193.80 L853.14,193.68 L854.00,193.56 L854.87,193.44 L855.74,193.32 L856.61,193.21 L857.47,193.09 L858.34,192.98 L859.21,192.87 L860.08,192.77 L860.95,192.66 L861.81,192.56 L862.68,192.46 L863.55,192.36 L864.42,192.27 L865.28,192.18 L866.15,192.09 L867.02,192.00 L867.89,191.91 L868.76,191.83 L869.62,191.74 L870.49,191.66 L871.36,191.59 L872.23,191.51 L873.10,191.44 L873.96,191.37 L874.83,191.30 L875.70,191.23 L876.57,191.17 L877.43,191.11 L878.30,191.05 L879.17,190.99 L880.04,190.93 L880.91,190.88 L881.77,190.83 L882.64,190.78 L883.51,190.73 L884.38,190.68 L885.25,190.64 L886.11,190.60 L886.98,190.55 L887.85,190.52 L888.72,190.48 L889.58,190.44 L890.45,190.41 L891.32,190.38 L892.19,190.35 L893.06,190.32 L893.92,190.30 L894.79,190.27 L895.66,190.25 L896.53,190.23 L897.39,190.21 L898.26,190.19 L899.13,190.17 L900.00,190.16 L900.87,190.14 L901.73,190.13 L902.60,190.12 L903.47,190.11 L904.34,190.10 L905.21,190.09 L906.07,190.09 L906.94,190.08 L907.81,190.08 L908.68,190.08 L909.54,190.08 L910.41,190.08 L911.28,190.08 L912.15,190.08 L913.02,190.09 L913.88,190.09 L914.75,190.10 L915.62,190.11 L916.49,190.11 L917.36,190.12 L918.22,190.13 L919.09,190.14 L919.96,190.16 L920.83,190.17 L921.69,190.18 L922.56,190.20 L923.43,190.21 L924.30,190.23 L925.17,190.25 L926.03,190.26 L926.90,190.28 L927.77,190.30 L928.64,190.32 L929.50,190.34 L930.37,190.36 L931.24,190.39 L932.11,190.41 L932.98,190.43 L933.84,190.46 L934.71,190.48 L935.58,190.50 L936.45,190.53 L937.32,190.55 L938.18,190.58 L939.05,190.61 L939.92,190.63 L940.79,190.66 L941.65,190.69 L942.52,190.71 L943.39,190.74 L944.26,190.77 L945.13,190.80 L945.99,190.83 L946.86,190.85 L947.73,190.88 L948.60,190.91 L949.47,190.94 L950.33,190.97 L951.20,191.00 L952.07,191.03 L952.94,191.06 L953.80,191.09 L954.67,191.11 L955.54,191.14 L956.41,191.17 L957.28,191.20 L958.14,191.23 L959.01,191.26 L959.88,191.29 L960.75,191.31 L961.61,191.34 L962.48,191.37 L963.35,191.39 L964.22,191.42 L965.09,191.45 L965.95,191.47 L966.82,191.50 L967.69,191.52 L968.56,191.55 L969.43,191.57 L970.29,191.60 L971.16,191.62 L972.03,191.64 L972.90,191.67 L973.76,191.69 L974.63,191.71 L975.50,191.73 L976.37,191.76 L977.24,191.78 L978.10,191.80 L978.97,191.82 L979.84,191.84 L980.71,191.86 L981.58,191.88 L982.44,191.90 L983.31,191.92 L984.18,191.93 L985.05,191.95 L985.91,191.97 L986.78,191.99 L987.65,192.00 L988.52,192.02 L989.39,192.04 L990.25,192.05 L991.12,192.07 L991.99,192.09 L992.86,192.10 L993.72,192.12 L994.59,192.13 L995.46,192.14 L996.33,192.16 L997.20,192.17 L998.06,192.19 L998.93,192.20 L999.80,192.21 L1000.67,192.22 L1001.54,192.24 L1002.40,192.25 L1003.27,192.26 L1004.14,192.27 L1005.01,192.28 L1005.87,192.29 L1006.74,192.30 L1007.61,192.31 L1008.48,192.32" fill="none" stroke="#ed1c24" stroke-width="4.2" stroke-linejoin="round" clip-path="url(#clin)"/>
<circle cx="689.80" cy="268.16" r="8.3" fill="#ed1c24"/>
<circle cx="717.39" cy="243.75" r="8.3" fill="#ed1c24"/>
<circle cx="744.98" cy="226.31" r="8.3" fill="#ed1c24"/>
<circle cx="777.26" cy="212.36" r="8.3" fill="#ed1c24"/>
<circle cx="873.10" cy="191.44" r="8.3" fill="#ed1c24"/>
<circle cx="964.75" cy="191.44" r="8.3" fill="#ed1c24"/>
<path d="M662.21,344.54 L663.08,339.68 L663.95,334.97 L664.81,330.41 L665.68,325.99 L666.55,321.72 L667.42,317.58 L668.29,313.58 L669.15,309.72 L670.02,305.99 L670.89,302.39 L671.76,298.91 L672.62,295.56 L673.49,292.33 L674.36,289.22 L675.23,286.23 L676.10,283.34 L676.96,280.57 L677.83,277.91 L678.70,275.35 L679.57,272.89 L680.44,270.53 L681.30,268.27 L682.17,266.11 L683.04,264.03 L683.91,262.05 L684.77,260.15 L685.64,258.34 L686.51,256.60 L687.38,254.95 L688.25,253.37 L689.11,251.87 L689.98,250.43 L690.85,249.06 L691.72,247.76 L692.58,246.52 L693.45,245.34 L694.32,244.22 L695.19,243.15 L696.06,242.13 L696.92,241.16 L697.79,240.24 L698.66,239.36 L699.53,238.53 L700.40,237.73 L701.26,236.97 L702.13,236.24 L703.00,235.54 L703.87,234.87 L704.73,234.22 L705.60,233.60 L706.47,232.99 L707.34,232.40 L708.21,231.83 L709.07,231.27 L709.94,230.72 L710.81,230.17 L711.68,229.63 L712.55,229.09 L713.41,228.55 L714.28,228.00 L715.15,227.45 L716.02,226.88 L716.88,226.31 L717.75,225.71 L718.62,225.11 L719.49,224.48 L720.36,223.85 L721.22,223.19 L722.09,222.53 L722.96,221.85 L723.83,221.15 L724.69,220.45 L725.56,219.73 L726.43,219.00 L727.30,218.27 L728.17,217.52 L729.03,216.76 L729.90,215.99 L730.77,215.22 L731.64,214.44 L732.51,213.65 L733.37,212.85 L734.24,212.05 L735.11,211.25 L735.98,210.44 L736.84,209.62 L737.71,208.80 L738.58,207.98 L739.45,207.16 L740.32,206.34 L741.18,205.51 L742.05,204.68 L742.92,203.86 L743.79,203.03 L744.66,202.21 L745.52,201.38 L746.39,200.56 L747.26,199.75 L748.13,198.93 L748.99,198.12 L749.86,197.31 L750.73,196.50 L751.60,195.69 L752.47,194.89 L753.33,194.10 L754.20,193.30 L755.07,192.51 L755.94,191.72 L756.80,190.94 L757.67,190.16 L758.54,189.39 L759.41,188.62 L760.28,187.85 L761.14,187.09 L762.01,186.33 L762.88,185.58 L763.75,184.84 L764.62,184.10 L765.48,183.36 L766.35,182.63 L767.22,181.91 L768.09,181.19 L768.95,180.48 L769.82,179.77 L770.69,179.07 L771.56,178.38 L772.43,177.69 L773.29,177.01 L774.16,176.34 L775.03,175.67 L775.90,175.02 L776.77,174.36 L777.63,173.72 L778.50,173.09 L779.37,172.46 L780.24,171.84 L781.10,171.22 L781.97,170.62 L782.84,170.02 L783.71,169.43 L784.58,168.84 L785.44,168.27 L786.31,167.70 L787.18,167.13 L788.05,166.58 L788.92,166.03 L789.78,165.49 L790.65,164.95 L791.52,164.43 L792.39,163.91 L793.25,163.39 L794.12,162.88 L794.99,162.38 L795.86,161.89 L796.73,161.40 L797.59,160.92 L798.46,160.45 L799.33,159.98 L800.20,159.52 L801.06,159.06 L801.93,158.61 L802.80,158.17 L803.67,157.73 L804.54,157.30 L805.40,156.88 L806.27,156.46 L807.14,156.05 L808.01,155.64 L808.88,155.24 L809.74,154.84 L810.61,154.45 L811.48,154.07 L812.35,153.69 L813.21,153.32 L814.08,152.95 L814.95,152.59 L815.82,152.24 L816.69,151.89 L817.55,151.54 L818.42,151.20 L819.29,150.87 L820.16,150.54 L821.03,150.22 L821.89,149.90 L822.76,149.58 L823.63,149.28 L824.50,148.97 L825.36,148.67 L826.23,148.38 L827.10,148.09 L827.97,147.81 L828.84,147.53 L829.70,147.25 L830.57,146.98 L831.44,146.72 L832.31,146.46 L833.17,146.20 L834.04,145.95 L834.91,145.70 L835.78,145.46 L836.65,145.22 L837.51,144.99 L838.38,144.76 L839.25,144.53 L840.12,144.31 L840.99,144.09 L841.85,143.88 L842.72,143.67 L843.59,143.46 L844.46,143.26 L845.32,143.06 L846.19,142.87 L847.06,142.67 L847.93,142.49 L848.80,142.30 L849.66,142.12 L850.53,141.95 L851.40,141.77 L852.27,141.60 L853.14,141.44 L854.00,141.27 L854.87,141.11 L855.74,140.96 L856.61,140.80 L857.47,140.65 L858.34,140.51 L859.21,140.36 L860.08,140.22 L860.95,140.08 L861.81,139.95 L862.68,139.82 L863.55,139.69 L864.42,139.56 L865.28,139.43 L866.15,139.31 L867.02,139.19 L867.89,139.08 L868.76,138.96 L869.62,138.85 L870.49,138.74 L871.36,138.64 L872.23,138.53 L873.10,138.43 L873.96,138.33 L874.83,138.23 L875.70,138.13 L876.57,138.04 L877.43,137.95 L878.30,137.86 L879.17,137.77 L880.04,137.69 L880.91,137.60 L881.77,137.52 L882.64,137.44 L883.51,137.36 L884.38,137.29 L885.25,137.21 L886.11,137.14 L886.98,137.07 L887.85,137.00 L888.72,136.94 L889.58,136.87 L890.45,136.81 L891.32,136.75 L892.19,136.69 L893.06,136.63 L893.92,136.57 L894.79,136.52 L895.66,136.47 L896.53,136.42 L897.39,136.37 L898.26,136.32 L899.13,136.27 L900.00,136.23 L900.87,136.18 L901.73,136.14 L902.60,136.10 L903.47,136.06 L904.34,136.03 L905.21,135.99 L906.07,135.96 L906.94,135.92 L907.81,135.89 L908.68,135.86 L909.54,135.83 L910.41,135.80 L911.28,135.77 L912.15,135.75 L913.02,135.72 L913.88,135.70 L914.75,135.68 L915.62,135.66 L916.49,135.64 L917.36,135.62 L918.22,135.60 L919.09,135.59 L919.96,135.57 L920.83,135.56 L921.69,135.54 L922.56,135.53 L923.43,135.52 L924.30,135.51 L925.17,135.50 L926.03,135.49 L926.90,135.48 L927.77,135.47 L928.64,135.47 L929.50,135.46 L930.37,135.46 L931.24,135.45 L932.11,135.45 L932.98,135.44 L933.84,135.44 L934.71,135.44 L935.58,135.44 L936.45,135.44 L937.32,135.44 L938.18,135.44 L939.05,135.44 L939.92,135.45 L940.79,135.45 L941.65,135.45 L942.52,135.46 L943.39,135.46 L944.26,135.46 L945.13,135.47 L945.99,135.47 L946.86,135.48 L947.73,135.49 L948.60,135.49 L949.47,135.50 L950.33,135.50 L951.20,135.51 L952.07,135.52 L952.94,135.53 L953.80,135.53 L954.67,135.54 L955.54,135.55 L956.41,135.56 L957.28,135.57 L958.14,135.57 L959.01,135.58 L959.88,135.59 L960.75,135.60 L961.61,135.61 L962.48,135.62 L963.35,135.62 L964.22,135.63 L965.09,135.64 L965.95,135.65 L966.82,135.66 L967.69,135.66 L968.56,135.67 L969.43,135.68 L970.29,135.69 L971.16,135.69 L972.03,135.70 L972.90,135.71 L973.76,135.71 L974.63,135.72 L975.50,135.73 L976.37,135.74 L977.24,135.74 L978.10,135.75 L978.97,135.75 L979.84,135.76 L980.71,135.77 L981.58,135.77 L982.44,135.78 L983.31,135.78 L984.18,135.79 L985.05,135.80 L985.91,135.80 L986.78,135.81 L987.65,135.81 L988.52,135.82 L989.39,135.82 L990.25,135.83 L991.12,135.83 L991.99,135.84 L992.86,135.84 L993.72,135.85 L994.59,135.85 L995.46,135.85 L996.33,135.86 L997.20,135.86 L998.06,135.87 L998.93,135.87 L999.80,135.87 L1000.67,135.88 L1001.54,135.88 L1002.40,135.89 L1003.27,135.89 L1004.14,135.89 L1005.01,135.90 L1005.87,135.90 L1006.74,135.90 L1007.61,135.91 L1008.48,135.91" fill="none" stroke="#f7a11a" stroke-width="7.4" stroke-opacity="0.3" clip-path="url(#clin)"/>
<path d="M662.21,344.54 L663.08,339.68 L663.95,334.97 L664.81,330.41 L665.68,325.99 L666.55,321.72 L667.42,317.58 L668.29,313.58 L669.15,309.72 L670.02,305.99 L670.89,302.39 L671.76,298.91 L672.62,295.56 L673.49,292.33 L674.36,289.22 L675.23,286.23 L676.10,283.34 L676.96,280.57 L677.83,277.91 L678.70,275.35 L679.57,272.89 L680.44,270.53 L681.30,268.27 L682.17,266.11 L683.04,264.03 L683.91,262.05 L684.77,260.15 L685.64,258.34 L686.51,256.60 L687.38,254.95 L688.25,253.37 L689.11,251.87 L689.98,250.43 L690.85,249.06 L691.72,247.76 L692.58,246.52 L693.45,245.34 L694.32,244.22 L695.19,243.15 L696.06,242.13 L696.92,241.16 L697.79,240.24 L698.66,239.36 L699.53,238.53 L700.40,237.73 L701.26,236.97 L702.13,236.24 L703.00,235.54 L703.87,234.87 L704.73,234.22 L705.60,233.60 L706.47,232.99 L707.34,232.40 L708.21,231.83 L709.07,231.27 L709.94,230.72 L710.81,230.17 L711.68,229.63 L712.55,229.09 L713.41,228.55 L714.28,228.00 L715.15,227.45 L716.02,226.88 L716.88,226.31 L717.75,225.71 L718.62,225.11 L719.49,224.48 L720.36,223.85 L721.22,223.19 L722.09,222.53 L722.96,221.85 L723.83,221.15 L724.69,220.45 L725.56,219.73 L726.43,219.00 L727.30,218.27 L728.17,217.52 L729.03,216.76 L729.90,215.99 L730.77,215.22 L731.64,214.44 L732.51,213.65 L733.37,212.85 L734.24,212.05 L735.11,211.25 L735.98,210.44 L736.84,209.62 L737.71,208.80 L738.58,207.98 L739.45,207.16 L740.32,206.34 L741.18,205.51 L742.05,204.68 L742.92,203.86 L743.79,203.03 L744.66,202.21 L745.52,201.38 L746.39,200.56 L747.26,199.75 L748.13,198.93 L748.99,198.12 L749.86,197.31 L750.73,196.50 L751.60,195.69 L752.47,194.89 L753.33,194.10 L754.20,193.30 L755.07,192.51 L755.94,191.72 L756.80,190.94 L757.67,190.16 L758.54,189.39 L759.41,188.62 L760.28,187.85 L761.14,187.09 L762.01,186.33 L762.88,185.58 L763.75,184.84 L764.62,184.10 L765.48,183.36 L766.35,182.63 L767.22,181.91 L768.09,181.19 L768.95,180.48 L769.82,179.77 L770.69,179.07 L771.56,178.38 L772.43,177.69 L773.29,177.01 L774.16,176.34 L775.03,175.67 L775.90,175.02 L776.77,174.36 L777.63,173.72 L778.50,173.09 L779.37,172.46 L780.24,171.84 L781.10,171.22 L781.97,170.62 L782.84,170.02 L783.71,169.43 L784.58,168.84 L785.44,168.27 L786.31,167.70 L787.18,167.13 L788.05,166.58 L788.92,166.03 L789.78,165.49 L790.65,164.95 L791.52,164.43 L792.39,163.91 L793.25,163.39 L794.12,162.88 L794.99,162.38 L795.86,161.89 L796.73,161.40 L797.59,160.92 L798.46,160.45 L799.33,159.98 L800.20,159.52 L801.06,159.06 L801.93,158.61 L802.80,158.17 L803.67,157.73 L804.54,157.30 L805.40,156.88 L806.27,156.46 L807.14,156.05 L808.01,155.64 L808.88,155.24 L809.74,154.84 L810.61,154.45 L811.48,154.07 L812.35,153.69 L813.21,153.32 L814.08,152.95 L814.95,152.59 L815.82,152.24 L816.69,151.89 L817.55,151.54 L818.42,151.20 L819.29,150.87 L820.16,150.54 L821.03,150.22 L821.89,149.90 L822.76,149.58 L823.63,149.28 L824.50,148.97 L825.36,148.67 L826.23,148.38 L827.10,148.09 L827.97,147.81 L828.84,147.53 L829.70,147.25 L830.57,146.98 L831.44,146.72 L832.31,146.46 L833.17,146.20 L834.04,145.95 L834.91,145.70 L835.78,145.46 L836.65,145.22 L837.51,144.99 L838.38,144.76 L839.25,144.53 L840.12,144.31 L840.99,144.09 L841.85,143.88 L842.72,143.67 L843.59,143.46 L844.46,143.26 L845.32,143.06 L846.19,142.87 L847.06,142.67 L847.93,142.49 L848.80,142.30 L849.66,142.12 L850.53,141.95 L851.40,141.77 L852.27,141.60 L853.14,141.44 L854.00,141.27 L854.87,141.11 L855.74,140.96 L856.61,140.80 L857.47,140.65 L858.34,140.51 L859.21,140.36 L860.08,140.22 L860.95,140.08 L861.81,139.95 L862.68,139.82 L863.55,139.69 L864.42,139.56 L865.28,139.43 L866.15,139.31 L867.02,139.19 L867.89,139.08 L868.76,138.96 L869.62,138.85 L870.49,138.74 L871.36,138.64 L872.23,138.53 L873.10,138.43 L873.96,138.33 L874.83,138.23 L875.70,138.13 L876.57,138.04 L877.43,137.95 L878.30,137.86 L879.17,137.77 L880.04,137.69 L880.91,137.60 L881.77,137.52 L882.64,137.44 L883.51,137.36 L884.38,137.29 L885.25,137.21 L886.11,137.14 L886.98,137.07 L887.85,137.00 L888.72,136.94 L889.58,136.87 L890.45,136.81 L891.32,136.75 L892.19,136.69 L893.06,136.63 L893.92,136.57 L894.79,136.52 L895.66,136.47 L896.53,136.42 L897.39,136.37 L898.26,136.32 L899.13,136.27 L900.00,136.23 L900.87,136.18 L901.73,136.14 L902.60,136.10 L903.47,136.06 L904.34,136.03 L905.21,135.99 L906.07,135.96 L906.94,135.92 L907.81,135.89 L908.68,135.86 L909.54,135.83 L910.41,135.80 L911.28,135.77 L912.15,135.75 L913.02,135.72 L913.88,135.70 L914.75,135.68 L915.62,135.66 L916.49,135.64 L917.36,135.62 L918.22,135.60 L919.09,135.59 L919.96,135.57 L920.83,135.56 L921.69,135.54 L922.56,135.53 L923.43,135.52 L924.30,135.51 L925.17,135.50 L926.03,135.49 L926.90,135.48 L927.77,135.47 L928.64,135.47 L929.50,135.46 L930.37,135.46 L931.24,135.45 L932.11,135.45 L932.98,135.44 L933.84,135.44 L934.71,135.44 L935.58,135.44 L936.45,135.44 L937.32,135.44 L938.18,135.44 L939.05,135.44 L939.92,135.45 L940.79,135.45 L941.65,135.45 L942.52,135.46 L943.39,135.46 L944.26,135.46 L945.13,135.47 L945.99,135.47 L946.86,135.48 L947.73,135.49 L948.60,135.49 L949.47,135.50 L950.33,135.50 L951.20,135.51 L952.07,135.52 L952.94,135.53 L953.80,135.53 L954.67,135.54 L955.54,135.55 L956.41,135.56 L957.28,135.57 L958.14,135.57 L959.01,135.58 L959.88,135.59 L960.75,135.60 L961.61,135.61 L962.48,135.62 L963.35,135.62 L964.22,135.63 L965.09,135.64 L965.95,135.65 L966.82,135.66 L967.69,135.66 L968.56,135.67 L969.43,135.68 L970.29,135.69 L971.16,135.69 L972.03,135.70 L972.90,135.71 L973.76,135.71 L974.63,135.72 L975.50,135.73 L976.37,135.74 L977.24,135.74 L978.10,135.75 L978.97,135.75 L979.84,135.76 L980.71,135.77 L981.58,135.77 L982.44,135.78 L983.31,135.78 L984.18,135.79 L985.05,135.80 L985.91,135.80 L986.78,135.81 L987.65,135.81 L988.52,135.82 L989.39,135.82 L990.25,135.83 L991.12,135.83 L991.99,135.84 L992.86,135.84 L993.72,135.85 L994.59,135.85 L995.46,135.85 L996.33,135.86 L997.20,135.86 L998.06,135.87 L998.93,135.87 L999.80,135.87 L1000.67,135.88 L1001.54,135.88 L1002.40,135.89 L1003.27,135.89 L1004.14,135.89 L1005.01,135.90 L1005.87,135.90 L1006.74,135.90 L1007.61,135.91 L1008.48,135.91" fill="none" stroke="#f7a11a" stroke-width="4.2" stroke-linejoin="round" clip-path="url(#clin)"/>
<circle cx="662.21" cy="344.54" r="8.3" fill="#f7a11a"/>
<circle cx="689.80" cy="250.72" r="8.3" fill="#f7a11a"/>
<circle cx="717.39" cy="225.96" r="8.3" fill="#f7a11a"/>
<circle cx="744.98" cy="201.90" r="8.3" fill="#f7a11a"/>
<circle cx="777.26" cy="174.00" r="8.3" fill="#f7a11a"/>
<circle cx="873.10" cy="138.43" r="8.3" fill="#f7a11a"/>
<circle cx="964.75" cy="135.64" r="8.3" fill="#f7a11a"/>
<rect x="653.0" y="124.9" width="341.0" height="229.99999999999997" fill="none" stroke="#000" stroke-width="2.2"/>
<text x="822.3" y="420.20" font-size="31.2" text-anchor="middle" font-style="italic">η</text>
<text transform="translate(535,241.70) rotate(-90)" font-size="31.2" text-anchor="middle"><tspan font-style="italic">p</tspan><tspan font-size="21.85" dy="5">th</tspan></text>
<clipPath id="cl745"><rect x="131.0" y="745.5" width="724.0" height="505.0"/></clipPath>
<path d="M148.64,1067.60 L150.41,1067.02 L152.19,1066.41 L153.97,1065.78 L155.74,1065.13 L157.52,1064.46 L159.30,1063.77 L161.07,1063.06 L162.85,1062.32 L164.63,1061.57 L166.40,1060.79 L168.18,1060.00 L169.95,1059.18 L171.73,1058.35 L173.51,1057.49 L175.28,1056.62 L177.06,1055.73 L178.84,1054.82 L180.61,1053.89 L182.39,1052.94 L184.17,1051.97 L185.94,1050.99 L187.72,1049.99 L189.50,1048.97 L191.27,1047.94 L193.05,1046.88 L194.82,1045.81 L196.60,1044.73 L198.38,1043.63 L200.15,1042.51 L201.93,1041.37 L203.71,1040.22 L205.48,1039.06 L207.26,1037.88 L209.04,1036.68 L210.81,1035.47 L212.59,1034.25 L214.37,1033.01 L216.14,1031.76 L217.92,1030.49 L219.69,1029.21 L221.47,1027.92 L223.25,1026.61 L225.02,1025.29 L226.80,1023.96 L228.58,1022.62 L230.35,1021.26 L232.13,1019.89 L233.91,1018.51 L235.68,1017.12 L237.46,1015.71 L239.24,1014.30 L241.01,1012.87 L242.79,1011.44 L244.57,1009.99 L246.34,1008.53 L248.12,1007.07 L249.89,1005.59 L251.67,1004.10 L253.45,1002.61 L255.22,1001.10 L257.00,999.59 L258.78,998.07 L260.55,996.54 L262.33,995.00 L264.11,993.45 L265.88,991.90 L267.66,990.33 L269.44,988.76 L271.21,987.19 L272.99,985.60 L274.76,984.01 L276.54,982.41 L278.32,980.80 L280.09,979.18 L281.87,977.56 L283.65,975.93 L285.42,974.30 L287.20,972.65 L288.98,971.00 L290.75,969.35 L292.53,967.68 L294.31,966.01 L296.08,964.34 L297.86,962.65 L299.63,960.96 L301.41,959.27 L303.19,957.57 L304.96,955.86 L306.74,954.14 L308.52,952.42 L310.29,950.70 L312.07,948.97 L313.85,947.23 L315.62,945.49 L317.40,943.74 L319.18,941.99 L320.95,940.23 L322.73,938.46 L324.50,936.70 L326.28,934.93 L328.06,933.15 L329.83,931.38 L331.61,929.60 L333.39,927.83 L335.16,926.05 L336.94,924.27 L338.72,922.50 L340.49,920.72 L342.27,918.95 L344.05,917.18 L345.82,915.42 L347.60,913.66 L349.37,911.90 L351.15,910.15 L352.93,908.40 L354.70,906.66 L356.48,904.93 L358.26,903.20 L360.03,901.49 L361.81,899.78 L363.59,898.08 L365.36,896.39 L367.14,894.71 L368.92,893.04 L370.69,891.39 L372.47,889.75 L374.24,888.12 L376.02,886.50 L377.80,884.90 L379.57,883.31 L381.35,881.74 L383.13,880.18 L384.90,878.64 L386.68,877.12 L388.46,875.62 L390.23,874.13 L392.01,872.65 L393.79,871.19 L395.56,869.75 L397.34,868.33 L399.11,866.92 L400.89,865.52 L402.67,864.14 L404.44,862.78 L406.22,861.43 L408.00,860.10 L409.77,858.78 L411.55,857.48 L413.33,856.19 L415.10,854.92 L416.88,853.66 L418.66,852.42 L420.43,851.19 L422.21,849.98 L423.99,848.78 L425.76,847.59 L427.54,846.42 L429.31,845.27 L431.09,844.12 L432.87,842.99 L434.64,841.88 L436.42,840.78 L438.20,839.69 L439.97,838.61 L441.75,837.55 L443.53,836.50 L445.30,835.47 L447.08,834.44 L448.86,833.43 L450.63,832.44 L452.41,831.45 L454.18,830.48 L455.96,829.52 L457.74,828.58 L459.51,827.64 L461.29,826.72 L463.07,825.81 L464.84,824.91 L466.62,824.02 L468.40,823.15 L470.17,822.29 L471.95,821.44 L473.73,820.60 L475.50,819.77 L477.28,818.95 L479.05,818.14 L480.83,817.35 L482.61,816.56 L484.38,815.79 L486.16,815.03 L487.94,814.27 L489.71,813.53 L491.49,812.80 L493.27,812.08 L495.04,811.37 L496.82,810.67 L498.60,809.98 L500.37,809.30 L502.15,808.62 L503.92,807.96 L505.70,807.31 L507.48,806.67 L509.25,806.03 L511.03,805.41 L512.81,804.80 L514.58,804.19 L516.36,803.59 L518.14,803.00 L519.91,802.42 L521.69,801.85 L523.47,801.29 L525.24,800.74 L527.02,800.19 L528.79,799.65 L530.57,799.13 L532.35,798.60 L534.12,798.09 L535.90,797.59 L537.68,797.09 L539.45,796.60 L541.23,796.11 L543.01,795.64 L544.78,795.17 L546.56,794.71 L548.34,794.25 L550.11,793.81 L551.89,793.37 L553.66,792.93 L555.44,792.51 L557.22,792.09 L558.99,791.67 L560.77,791.26 L562.55,790.86 L564.32,790.47 L566.10,790.08 L567.88,789.70 L569.65,789.32 L571.43,788.95 L573.21,788.58 L574.98,788.22 L576.76,787.86 L578.54,787.51 L580.31,787.17 L582.09,786.83 L583.86,786.49 L585.64,786.16 L587.42,785.84 L589.19,785.52 L590.97,785.21 L592.75,784.90 L594.52,784.59 L596.30,784.29 L598.08,783.99 L599.85,783.70 L601.63,783.42 L603.41,783.13 L605.18,782.86 L606.96,782.59 L608.73,782.32 L610.51,782.05 L612.29,781.79 L614.06,781.54 L615.84,781.29 L617.62,781.04 L619.39,780.80 L621.17,780.56 L622.95,780.33 L624.72,780.10 L626.50,779.87 L628.28,779.65 L630.05,779.43 L631.83,779.22 L633.60,779.01 L635.38,778.80 L637.16,778.60 L638.93,778.40 L640.71,778.20 L642.49,778.01 L644.26,777.82 L646.04,777.64 L647.82,777.46 L649.59,777.28 L651.37,777.11 L653.15,776.94 L654.92,776.77 L656.70,776.61 L658.47,776.45 L660.25,776.29 L662.03,776.13 L663.80,775.98 L665.58,775.83 L667.36,775.69 L669.13,775.55 L670.91,775.41 L672.69,775.27 L674.46,775.14 L676.24,775.01 L678.02,774.88 L679.79,774.75 L681.57,774.63 L683.34,774.51 L685.12,774.39 L686.90,774.28 L688.67,774.17 L690.45,774.06 L692.23,773.95 L694.00,773.84 L695.78,773.74 L697.56,773.64 L699.33,773.54 L701.11,773.45 L702.89,773.35 L704.66,773.26 L706.44,773.17 L708.21,773.08 L709.99,773.00 L711.77,772.91 L713.54,772.83 L715.32,772.75 L717.10,772.67 L718.87,772.60 L720.65,772.52 L722.43,772.45 L724.20,772.38 L725.98,772.31 L727.76,772.24 L729.53,772.17 L731.31,772.11 L733.08,772.04 L734.86,771.98 L736.64,771.92 L738.41,771.86 L740.19,771.80 L741.97,771.74 L743.74,771.69 L745.52,771.63 L747.30,771.58 L749.07,771.52 L750.85,771.47 L752.63,771.42 L754.40,771.37 L756.18,771.32 L757.96,771.27 L759.73,771.22 L761.51,771.18 L763.28,771.13 L765.06,771.08 L766.84,771.04 L768.61,770.99 L770.39,770.95 L772.17,770.90 L773.94,770.86 L775.72,770.82 L777.50,770.78 L779.27,770.73 L781.05,770.69 L782.83,770.65 L784.60,770.61 L786.38,770.57 L788.15,770.53 L789.93,770.50 L791.71,770.46 L793.48,770.42 L795.26,770.38 L797.04,770.35 L798.81,770.31 L800.59,770.28 L802.37,770.24 L804.14,770.21 L805.92,770.17 L807.70,770.14 L809.47,770.11 L811.25,770.07 L813.02,770.04 L814.80,770.01 L816.58,769.98 L818.35,769.95 L820.13,769.92 L821.91,769.89 L823.68,769.86 L825.46,769.83 L827.24,769.80 L829.01,769.78 L830.79,769.75 L832.57,769.72 L834.34,769.70 L836.12,769.67 L837.89,769.65 L839.67,769.62 L841.45,769.60 L843.22,769.57 L845.00,769.55 L846.78,769.53 L848.55,769.50 L850.33,769.48 L852.11,769.46 L853.88,769.44 L855.66,769.42 L857.44,769.40" fill="none" stroke="#0000ff" stroke-width="5.0" stroke-linejoin="round" clip-path="url(#cl745)"/>
<line x1="896.20" y1="769.76" x2="948.30" y2="769.76" stroke="#0000ff" stroke-width="5.0" stroke-linecap="butt" />
<circle cx="204.90" cy="1039.44" r="8.3" fill="#0000ff"/>
<circle cx="262.37" cy="994.96" r="8.3" fill="#0000ff"/>
<circle cx="318.03" cy="943.12" r="8.3" fill="#0000ff"/>
<circle cx="383.25" cy="880.08" r="8.3" fill="#0000ff"/>
<circle cx="578.70" cy="787.48" r="8.3" fill="#0000ff"/>
<circle cx="765.60" cy="771.07" r="8.3" fill="#0000ff"/>
<circle cx="948.30" cy="769.76" r="8.3" fill="#0000ff"/>
<path d="M148.64,1067.60 L150.41,1066.72 L152.19,1065.88 L153.97,1065.08 L155.74,1064.32 L157.52,1063.60 L159.30,1062.93 L161.07,1062.30 L162.85,1061.71 L164.63,1061.17 L166.40,1060.67 L168.18,1060.21 L169.95,1059.79 L171.73,1059.42 L173.51,1059.10 L175.28,1058.82 L177.06,1058.58 L178.84,1058.39 L180.61,1058.24 L182.39,1058.14 L184.17,1058.09 L185.94,1058.08 L187.72,1058.12 L189.50,1058.20 L191.27,1058.33 L193.05,1058.50 L194.82,1058.73 L196.60,1059.00 L198.38,1059.32 L200.15,1059.68 L201.93,1060.09 L203.71,1060.55 L205.48,1061.06 L207.26,1061.62 L209.04,1062.22 L210.81,1062.87 L212.59,1063.56 L214.37,1064.29 L216.14,1065.05 L217.92,1065.86 L219.69,1066.69 L221.47,1067.56 L223.25,1068.46 L225.02,1069.39 L226.80,1070.35 L228.58,1071.33 L230.35,1072.33 L232.13,1073.35 L233.91,1074.40 L235.68,1075.46 L237.46,1076.53 L239.24,1077.62 L241.01,1078.72 L242.79,1079.83 L244.57,1080.95 L246.34,1082.07 L248.12,1083.19 L249.89,1084.32 L251.67,1085.45 L253.45,1086.57 L255.22,1087.70 L257.00,1088.81 L258.78,1089.92 L260.55,1091.02 L262.33,1092.10 L264.11,1093.18 L265.88,1094.24 L267.66,1095.28 L269.44,1096.31 L271.21,1097.33 L272.99,1098.34 L274.76,1099.33 L276.54,1100.31 L278.32,1101.27 L280.09,1102.22 L281.87,1103.16 L283.65,1104.09 L285.42,1105.00 L287.20,1105.89 L288.98,1106.78 L290.75,1107.65 L292.53,1108.51 L294.31,1109.35 L296.08,1110.18 L297.86,1111.00 L299.63,1111.80 L301.41,1112.59 L303.19,1113.37 L304.96,1114.14 L306.74,1114.89 L308.52,1115.63 L310.29,1116.35 L312.07,1117.06 L313.85,1117.76 L315.62,1118.45 L317.40,1119.12 L319.18,1119.78 L320.95,1120.43 L322.73,1121.06 L324.50,1121.68 L326.28,1122.29 L328.06,1122.89 L329.83,1123.48 L331.61,1124.05 L333.39,1124.61 L335.16,1125.16 L336.94,1125.70 L338.72,1126.23 L340.49,1126.75 L342.27,1127.25 L344.05,1127.75 L345.82,1128.24 L347.60,1128.72 L349.37,1129.18 L351.15,1129.64 L352.93,1130.09 L354.70,1130.53 L356.48,1130.96 L358.26,1131.38 L360.03,1131.80 L361.81,1132.20 L363.59,1132.60 L365.36,1132.99 L367.14,1133.37 L368.92,1133.74 L370.69,1134.11 L372.47,1134.47 L374.24,1134.82 L376.02,1135.17 L377.80,1135.51 L379.57,1135.84 L381.35,1136.17 L383.13,1136.49 L384.90,1136.81 L386.68,1137.12 L388.46,1137.43 L390.23,1137.73 L392.01,1138.02 L393.79,1138.31 L395.56,1138.59 L397.34,1138.87 L399.11,1139.14 L400.89,1139.41 L402.67,1139.67 L404.44,1139.93 L406.22,1140.18 L408.00,1140.43 L409.77,1140.67 L411.55,1140.91 L413.33,1141.15 L415.10,1141.37 L416.88,1141.60 L418.66,1141.82 L420.43,1142.03 L422.21,1142.24 L423.99,1142.45 L425.76,1142.65 L427.54,1142.84 L429.31,1143.04 L431.09,1143.22 L432.87,1143.41 L434.64,1143.59 L436.42,1143.76 L438.20,1143.93 L439.97,1144.10 L441.75,1144.27 L443.53,1144.42 L445.30,1144.58 L447.08,1144.73 L448.86,1144.88 L450.63,1145.02 L452.41,1145.16 L454.18,1145.30 L455.96,1145.44 L457.74,1145.57 L459.51,1145.69 L461.29,1145.81 L463.07,1145.93 L464.84,1146.05 L466.62,1146.16 L468.40,1146.27 L470.17,1146.38 L471.95,1146.48 L473.73,1146.59 L475.50,1146.68 L477.28,1146.78 L479.05,1146.87 L480.83,1146.96 L482.61,1147.04 L484.38,1147.13 L486.16,1147.21 L487.94,1147.29 L489.71,1147.36 L491.49,1147.44 L493.27,1147.51 L495.04,1147.58 L496.82,1147.64 L498.60,1147.70 L500.37,1147.77 L502.15,1147.83 L503.92,1147.88 L505.70,1147.94 L507.48,1147.99 L509.25,1148.04 L511.03,1148.09 L512.81,1148.14 L514.58,1148.18 L516.36,1148.22 L518.14,1148.27 L519.91,1148.31 L521.69,1148.34 L523.47,1148.38 L525.24,1148.42 L527.02,1148.45 L528.79,1148.48 L530.57,1148.51 L532.35,1148.54 L534.12,1148.57 L535.90,1148.60 L537.68,1148.62 L539.45,1148.65 L541.23,1148.67 L543.01,1148.69 L544.78,1148.71 L546.56,1148.74 L548.34,1148.76 L550.11,1148.77 L551.89,1148.79 L553.66,1148.81 L555.44,1148.83 L557.22,1148.84 L558.99,1148.86 L560.77,1148.87 L562.55,1148.89 L564.32,1148.90 L566.10,1148.92 L567.88,1148.93 L569.65,1148.94 L571.43,1148.96 L573.21,1148.97 L574.98,1148.98 L576.76,1149.00 L578.54,1149.01 L580.31,1149.02 L582.09,1149.04 L583.86,1149.05 L585.64,1149.06 L587.42,1149.08 L589.19,1149.09 L590.97,1149.10 L592.75,1149.12 L594.52,1149.13 L596.30,1149.14 L598.08,1149.16 L599.85,1149.17 L601.63,1149.19 L603.41,1149.20 L605.18,1149.21 L606.96,1149.23 L608.73,1149.24 L610.51,1149.26 L612.29,1149.27 L614.06,1149.28 L615.84,1149.30 L617.62,1149.31 L619.39,1149.33 L621.17,1149.34 L622.95,1149.36 L624.72,1149.37 L626.50,1149.38 L628.28,1149.40 L630.05,1149.41 L631.83,1149.43 L633.60,1149.44 L635.38,1149.46 L637.16,1149.47 L638.93,1149.49 L640.71,1149.50 L642.49,1149.51 L644.26,1149.53 L646.04,1149.54 L647.82,1149.56 L649.59,1149.57 L651.37,1149.59 L653.15,1149.60 L654.92,1149.62 L656.70,1149.63 L658.47,1149.64 L660.25,1149.66 L662.03,1149.67 L663.80,1149.69 L665.58,1149.70 L667.36,1149.72 L669.13,1149.73 L670.91,1149.75 L672.69,1149.76 L674.46,1149.77 L676.24,1149.79 L678.02,1149.80 L679.79,1149.82 L681.57,1149.83 L683.34,1149.84 L685.12,1149.86 L686.90,1149.87 L688.67,1149.89 L690.45,1149.90 L692.23,1149.91 L694.00,1149.93 L695.78,1149.94 L697.56,1149.95 L699.33,1149.97 L701.11,1149.98 L702.89,1149.99 L704.66,1150.01 L706.44,1150.02 L708.21,1150.03 L709.99,1150.05 L711.77,1150.06 L713.54,1150.07 L715.32,1150.09 L717.10,1150.10 L718.87,1150.11 L720.65,1150.12 L722.43,1150.14 L724.20,1150.15 L725.98,1150.16 L727.76,1150.17 L729.53,1150.19 L731.31,1150.20 L733.08,1150.21 L734.86,1150.22 L736.64,1150.23 L738.41,1150.25 L740.19,1150.26 L741.97,1150.27 L743.74,1150.28 L745.52,1150.29 L747.30,1150.30 L749.07,1150.31 L750.85,1150.32 L752.63,1150.34 L754.40,1150.35 L756.18,1150.36 L757.96,1150.37 L759.73,1150.38 L761.51,1150.39 L763.28,1150.40 L765.06,1150.41 L766.84,1150.42 L768.61,1150.43 L770.39,1150.44 L772.17,1150.45 L773.94,1150.45 L775.72,1150.46 L777.50,1150.47 L779.27,1150.48 L781.05,1150.49 L782.83,1150.50 L784.60,1150.51 L786.38,1150.51 L788.15,1150.52 L789.93,1150.53 L791.71,1150.54 L793.48,1150.55 L795.26,1150.55 L797.04,1150.56 L798.81,1150.57 L800.59,1150.58 L802.37,1150.58 L804.14,1150.59 L805.92,1150.60 L807.70,1150.60 L809.47,1150.61 L811.25,1150.62 L813.02,1150.62 L814.80,1150.63 L816.58,1150.64 L818.35,1150.64 L820.13,1150.65 L821.91,1150.65 L823.68,1150.66 L825.46,1150.66 L827.24,1150.67 L829.01,1150.67 L830.79,1150.68 L832.57,1150.68 L834.34,1150.69 L836.12,1150.69 L837.89,1150.70 L839.67,1150.70 L841.45,1150.71 L843.22,1150.71 L845.00,1150.72 L846.78,1150.72 L848.55,1150.72 L850.33,1150.73 L852.11,1150.73 L853.88,1150.74 L855.66,1150.74 L857.44,1150.74" fill="none" stroke="#008000" stroke-width="5.0" stroke-linejoin="round" clip-path="url(#cl745)"/>
<line x1="896.20" y1="1150.41" x2="948.30" y2="1150.41" stroke="#008000" stroke-width="5.0" stroke-linecap="butt" />
<circle cx="148.64" cy="1067.60" r="8.3" fill="#008000"/>
<circle cx="204.90" cy="1060.89" r="8.3" fill="#008000"/>
<circle cx="262.37" cy="1092.13" r="8.3" fill="#008000"/>
<circle cx="318.03" cy="1119.36" r="8.3" fill="#008000"/>
<circle cx="383.25" cy="1136.52" r="8.3" fill="#008000"/>
<circle cx="578.70" cy="1149.01" r="8.3" fill="#008000"/>
<circle cx="765.60" cy="1150.41" r="8.3" fill="#008000"/>
<circle cx="948.30" cy="1150.41" r="8.3" fill="#008000"/>
<path d="M148.64,1227.99 L150.41,1227.85 L152.19,1227.69 L153.97,1227.53 L155.74,1227.36 L157.52,1227.18 L159.30,1227.00 L161.07,1226.81 L162.85,1226.61 L164.63,1226.41 L166.40,1226.21 L168.18,1225.99 L169.95,1225.78 L171.73,1225.55 L173.51,1225.32 L175.28,1225.09 L177.06,1224.85 L178.84,1224.61 L180.61,1224.36 L182.39,1224.11 L184.17,1223.86 L185.94,1223.60 L187.72,1223.34 L189.50,1223.07 L191.27,1222.80 L193.05,1222.52 L194.82,1222.25 L196.60,1221.97 L198.38,1221.69 L200.15,1221.40 L201.93,1221.11 L203.71,1220.82 L205.48,1220.53 L207.26,1220.24 L209.04,1219.94 L210.81,1219.64 L212.59,1219.34 L214.37,1219.04 L216.14,1218.74 L217.92,1218.44 L219.69,1218.14 L221.47,1217.83 L223.25,1217.53 L225.02,1217.22 L226.80,1216.92 L228.58,1216.61 L230.35,1216.31 L232.13,1216.00 L233.91,1215.70 L235.68,1215.40 L237.46,1215.09 L239.24,1214.79 L241.01,1214.49 L242.79,1214.19 L244.57,1213.89 L246.34,1213.60 L248.12,1213.30 L249.89,1213.01 L251.67,1212.72 L253.45,1212.43 L255.22,1212.14 L257.00,1211.86 L258.78,1211.58 L260.55,1211.30 L262.33,1211.03 L264.11,1210.76 L265.88,1210.49 L267.66,1210.22 L269.44,1209.96 L271.21,1209.70 L272.99,1209.45 L274.76,1209.19 L276.54,1208.94 L278.32,1208.69 L280.09,1208.44 L281.87,1208.20 L283.65,1207.95 L285.42,1207.71 L287.20,1207.47 L288.98,1207.23 L290.75,1206.99 L292.53,1206.75 L294.31,1206.52 L296.08,1206.28 L297.86,1206.04 L299.63,1205.81 L301.41,1205.58 L303.19,1205.34 L304.96,1205.11 L306.74,1204.87 L308.52,1204.64 L310.29,1204.40 L312.07,1204.17 L313.85,1203.93 L315.62,1203.70 L317.40,1203.46 L319.18,1203.22 L320.95,1202.98 L322.73,1202.74 L324.50,1202.50 L326.28,1202.26 L328.06,1202.02 L329.83,1201.78 L331.61,1201.54 L333.39,1201.29 L335.16,1201.05 L336.94,1200.81 L338.72,1200.57 L340.49,1200.33 L342.27,1200.09 L344.05,1199.85 L345.82,1199.61 L347.60,1199.37 L349.37,1199.13 L351.15,1198.90 L352.93,1198.66 L354.70,1198.43 L356.48,1198.20 L358.26,1197.97 L360.03,1197.74 L361.81,1197.51 L363.59,1197.29 L365.36,1197.07 L367.14,1196.85 L368.92,1196.63 L370.69,1196.42 L372.47,1196.20 L374.24,1195.99 L376.02,1195.79 L377.80,1195.59 L379.57,1195.39 L381.35,1195.19 L383.13,1195.00 L384.90,1194.81 L386.68,1194.62 L388.46,1194.44 L390.23,1194.26 L392.01,1194.09 L393.79,1193.91 L395.56,1193.75 L397.34,1193.58 L399.11,1193.42 L400.89,1193.26 L402.67,1193.10 L404.44,1192.95 L406.22,1192.80 L408.00,1192.66 L409.77,1192.52 L411.55,1192.38 L413.33,1192.24 L415.10,1192.11 L416.88,1191.98 L418.66,1191.85 L420.43,1191.72 L422.21,1191.60 L423.99,1191.48 L425.76,1191.37 L427.54,1191.25 L429.31,1191.14 L431.09,1191.04 L432.87,1190.93 L434.64,1190.83 L436.42,1190.73 L438.20,1190.63 L439.97,1190.54 L441.75,1190.44 L443.53,1190.35 L445.30,1190.27 L447.08,1190.18 L448.86,1190.10 L450.63,1190.02 L452.41,1189.94 L454.18,1189.86 L455.96,1189.79 L457.74,1189.72 L459.51,1189.65 L461.29,1189.58 L463.07,1189.52 L464.84,1189.45 L466.62,1189.39 L468.40,1189.33 L470.17,1189.28 L471.95,1189.22 L473.73,1189.17 L475.50,1189.12 L477.28,1189.07 L479.05,1189.02 L480.83,1188.97 L482.61,1188.93 L484.38,1188.89 L486.16,1188.84 L487.94,1188.81 L489.71,1188.77 L491.49,1188.73 L493.27,1188.70 L495.04,1188.66 L496.82,1188.63 L498.60,1188.60 L500.37,1188.57 L502.15,1188.54 L503.92,1188.51 L505.70,1188.49 L507.48,1188.46 L509.25,1188.44 L511.03,1188.42 L512.81,1188.40 L514.58,1188.38 L516.36,1188.36 L518.14,1188.34 L519.91,1188.32 L521.69,1188.31 L523.47,1188.29 L525.24,1188.28 L527.02,1188.27 L528.79,1188.25 L530.57,1188.24 L532.35,1188.23 L534.12,1188.22 L535.90,1188.21 L537.68,1188.20 L539.45,1188.19 L541.23,1188.18 L543.01,1188.18 L544.78,1188.17 L546.56,1188.16 L548.34,1188.16 L550.11,1188.15 L551.89,1188.15 L553.66,1188.14 L555.44,1188.14 L557.22,1188.13 L558.99,1188.13 L560.77,1188.12 L562.55,1188.12 L564.32,1188.12 L566.10,1188.11 L567.88,1188.11 L569.65,1188.10 L571.43,1188.10 L573.21,1188.10 L574.98,1188.09 L576.76,1188.09 L578.54,1188.08 L580.31,1188.08 L582.09,1188.07 L583.86,1188.07 L585.64,1188.06 L587.42,1188.06 L589.19,1188.05 L590.97,1188.05 L592.75,1188.04 L594.52,1188.04 L596.30,1188.03 L598.08,1188.02 L599.85,1188.02 L601.63,1188.01 L603.41,1188.00 L605.18,1187.99 L606.96,1187.99 L608.73,1187.98 L610.51,1187.97 L612.29,1187.96 L614.06,1187.96 L615.84,1187.95 L617.62,1187.94 L619.39,1187.93 L621.17,1187.92 L622.95,1187.91 L624.72,1187.90 L626.50,1187.90 L628.28,1187.89 L630.05,1187.88 L631.83,1187.87 L633.60,1187.86 L635.38,1187.85 L637.16,1187.84 L638.93,1187.83 L640.71,1187.82 L642.49,1187.81 L644.26,1187.80 L646.04,1187.79 L647.82,1187.78 L649.59,1187.77 L651.37,1187.76 L653.15,1187.75 L654.92,1187.74 L656.70,1187.73 L658.47,1187.71 L660.25,1187.70 L662.03,1187.69 L663.80,1187.68 L665.58,1187.67 L667.36,1187.66 L669.13,1187.65 L670.91,1187.64 L672.69,1187.63 L674.46,1187.61 L676.24,1187.60 L678.02,1187.59 L679.79,1187.58 L681.57,1187.57 L683.34,1187.56 L685.12,1187.55 L686.90,1187.53 L688.67,1187.52 L690.45,1187.51 L692.23,1187.50 L694.00,1187.49 L695.78,1187.48 L697.56,1187.47 L699.33,1187.45 L701.11,1187.44 L702.89,1187.43 L704.66,1187.42 L706.44,1187.41 L708.21,1187.40 L709.99,1187.39 L711.77,1187.37 L713.54,1187.36 L715.32,1187.35 L717.10,1187.34 L718.87,1187.33 L720.65,1187.32 L722.43,1187.31 L724.20,1187.30 L725.98,1187.28 L727.76,1187.27 L729.53,1187.26 L731.31,1187.25 L733.08,1187.24 L734.86,1187.23 L736.64,1187.22 L738.41,1187.21 L740.19,1187.20 L741.97,1187.19 L743.74,1187.18 L745.52,1187.17 L747.30,1187.16 L749.07,1187.15 L750.85,1187.14 L752.63,1187.13 L754.40,1187.12 L756.18,1187.11 L757.96,1187.10 L759.73,1187.09 L761.51,1187.08 L763.28,1187.07 L765.06,1187.06 L766.84,1187.05 L768.61,1187.04 L770.39,1187.03 L772.17,1187.03 L773.94,1187.02 L775.72,1187.01 L777.50,1187.00 L779.27,1186.99 L781.05,1186.98 L782.83,1186.98 L784.60,1186.97 L786.38,1186.96 L788.15,1186.95 L789.93,1186.95 L791.71,1186.94 L793.48,1186.93 L795.26,1186.92 L797.04,1186.92 L798.81,1186.91 L800.59,1186.90 L802.37,1186.90 L804.14,1186.89 L805.92,1186.89 L807.70,1186.88 L809.47,1186.87 L811.25,1186.87 L813.02,1186.86 L814.80,1186.86 L816.58,1186.85 L818.35,1186.84 L820.13,1186.84 L821.91,1186.83 L823.68,1186.83 L825.46,1186.82 L827.24,1186.82 L829.01,1186.81 L830.79,1186.81 L832.57,1186.80 L834.34,1186.80 L836.12,1186.80 L837.89,1186.79 L839.67,1186.79 L841.45,1186.78 L843.22,1186.78 L845.00,1186.77 L846.78,1186.77 L848.55,1186.77 L850.33,1186.76 L852.11,1186.76 L853.88,1186.76 L855.66,1186.75 L857.44,1186.75" fill="none" stroke="#ff0000" stroke-width="5.0" stroke-linejoin="round" clip-path="url(#cl745)"/>
<line x1="896.20" y1="1187.06" x2="948.30" y2="1187.06" stroke="#ff0000" stroke-width="5.0" stroke-linecap="butt" />
<circle cx="204.90" cy="1220.63" r="8.3" fill="#ff0000"/>
<circle cx="262.37" cy="1211.02" r="8.3" fill="#ff0000"/>
<circle cx="318.03" cy="1203.38" r="8.3" fill="#ff0000"/>
<circle cx="383.25" cy="1194.98" r="8.3" fill="#ff0000"/>
<circle cx="578.70" cy="1188.08" r="8.3" fill="#ff0000"/>
<circle cx="765.60" cy="1187.06" r="8.3" fill="#ff0000"/>
<circle cx="948.30" cy="1187.06" r="8.3" fill="#ff0000"/>
<path d="M148.64,1227.99 L150.41,1227.97 L152.19,1227.94 L153.97,1227.91 L155.74,1227.87 L157.52,1227.83 L159.30,1227.80 L161.07,1227.75 L162.85,1227.71 L164.63,1227.66 L166.40,1227.61 L168.18,1227.56 L169.95,1227.51 L171.73,1227.45 L173.51,1227.39 L175.28,1227.33 L177.06,1227.27 L178.84,1227.21 L180.61,1227.14 L182.39,1227.07 L184.17,1227.00 L185.94,1226.93 L187.72,1226.85 L189.50,1226.78 L191.27,1226.70 L193.05,1226.62 L194.82,1226.53 L196.60,1226.45 L198.38,1226.36 L200.15,1226.28 L201.93,1226.19 L203.71,1226.10 L205.48,1226.01 L207.26,1225.91 L209.04,1225.82 L210.81,1225.72 L212.59,1225.62 L214.37,1225.52 L216.14,1225.42 L217.92,1225.32 L219.69,1225.21 L221.47,1225.11 L223.25,1225.00 L225.02,1224.89 L226.80,1224.78 L228.58,1224.67 L230.35,1224.56 L232.13,1224.45 L233.91,1224.34 L235.68,1224.22 L237.46,1224.11 L239.24,1223.99 L241.01,1223.87 L242.79,1223.75 L244.57,1223.64 L246.34,1223.52 L248.12,1223.39 L249.89,1223.27 L251.67,1223.15 L253.45,1223.03 L255.22,1222.90 L257.00,1222.78 L258.78,1222.65 L260.55,1222.53 L262.33,1222.40 L264.11,1222.28 L265.88,1222.15 L267.66,1222.02 L269.44,1221.89 L271.21,1221.76 L272.99,1221.64 L274.76,1221.51 L276.54,1221.38 L278.32,1221.25 L280.09,1221.12 L281.87,1220.99 L283.65,1220.86 L285.42,1220.73 L287.20,1220.60 L288.98,1220.47 L290.75,1220.34 L292.53,1220.21 L294.31,1220.08 L296.08,1219.95 L297.86,1219.83 L299.63,1219.70 L301.41,1219.57 L303.19,1219.44 L304.96,1219.31 L306.74,1219.19 L308.52,1219.06 L310.29,1218.93 L312.07,1218.81 L313.85,1218.68 L315.62,1218.56 L317.40,1218.43 L319.18,1218.31 L320.95,1218.19 L322.73,1218.07 L324.50,1217.94 L326.28,1217.82 L328.06,1217.70 L329.83,1217.59 L331.61,1217.47 L333.39,1217.35 L335.16,1217.23 L336.94,1217.12 L338.72,1217.00 L340.49,1216.89 L342.27,1216.78 L344.05,1216.67 L345.82,1216.56 L347.60,1216.45 L349.37,1216.34 L351.15,1216.23 L352.93,1216.12 L354.70,1216.02 L356.48,1215.91 L358.26,1215.81 L360.03,1215.71 L361.81,1215.60 L363.59,1215.50 L365.36,1215.40 L367.14,1215.31 L368.92,1215.21 L370.69,1215.11 L372.47,1215.02 L374.24,1214.93 L376.02,1214.83 L377.80,1214.74 L379.57,1214.65 L381.35,1214.57 L383.13,1214.48 L384.90,1214.39 L386.68,1214.31 L388.46,1214.23 L390.23,1214.14 L392.01,1214.06 L393.79,1213.99 L395.56,1213.91 L397.34,1213.83 L399.11,1213.76 L400.89,1213.68 L402.67,1213.61 L404.44,1213.54 L406.22,1213.47 L408.00,1213.40 L409.77,1213.33 L411.55,1213.26 L413.33,1213.20 L415.10,1213.13 L416.88,1213.07 L418.66,1213.01 L420.43,1212.95 L422.21,1212.89 L423.99,1212.83 L425.76,1212.77 L427.54,1212.72 L429.31,1212.66 L431.09,1212.61 L432.87,1212.55 L434.64,1212.50 L436.42,1212.45 L438.20,1212.40 L439.97,1212.35 L441.75,1212.30 L443.53,1212.25 L445.30,1212.21 L447.08,1212.16 L448.86,1212.12 L450.63,1212.07 L452.41,1212.03 L454.18,1211.99 L455.96,1211.95 L457.74,1211.91 L459.51,1211.87 L461.29,1211.83 L463.07,1211.79 L464.84,1211.75 L466.62,1211.72 L468.40,1211.68 L470.17,1211.65 L471.95,1211.62 L473.73,1211.58 L475.50,1211.55 L477.28,1211.52 L479.05,1211.49 L480.83,1211.46 L482.61,1211.43 L484.38,1211.40 L486.16,1211.38 L487.94,1211.35 L489.71,1211.32 L491.49,1211.30 L493.27,1211.27 L495.04,1211.25 L496.82,1211.23 L498.60,1211.20 L500.37,1211.18 L502.15,1211.16 L503.92,1211.14 L505.70,1211.12 L507.48,1211.10 L509.25,1211.08 L511.03,1211.06 L512.81,1211.04 L514.58,1211.02 L516.36,1211.01 L518.14,1210.99 L519.91,1210.98 L521.69,1210.96 L523.47,1210.94 L525.24,1210.93 L527.02,1210.92 L528.79,1210.90 L530.57,1210.89 L532.35,1210.88 L534.12,1210.86 L535.90,1210.85 L537.68,1210.84 L539.45,1210.83 L541.23,1210.82 L543.01,1210.81 L544.78,1210.80 L546.56,1210.79 L548.34,1210.78 L550.11,1210.77 L551.89,1210.76 L553.66,1210.75 L555.44,1210.74 L557.22,1210.73 L558.99,1210.72 L560.77,1210.72 L562.55,1210.71 L564.32,1210.70 L566.10,1210.69 L567.88,1210.69 L569.65,1210.68 L571.43,1210.67 L573.21,1210.67 L574.98,1210.66 L576.76,1210.66 L578.54,1210.65 L580.31,1210.64 L582.09,1210.64 L583.86,1210.63 L585.64,1210.63 L587.42,1210.62 L589.19,1210.62 L590.97,1210.61 L592.75,1210.61 L594.52,1210.60 L596.30,1210.60 L598.08,1210.59 L599.85,1210.59 L601.63,1210.58 L603.41,1210.58 L605.18,1210.57 L606.96,1210.57 L608.73,1210.57 L610.51,1210.56 L612.29,1210.56 L614.06,1210.55 L615.84,1210.55 L617.62,1210.55 L619.39,1210.54 L621.17,1210.54 L622.95,1210.54 L624.72,1210.53 L626.50,1210.53 L628.28,1210.53 L630.05,1210.53 L631.83,1210.52 L633.60,1210.52 L635.38,1210.52 L637.16,1210.51 L638.93,1210.51 L640.71,1210.51 L642.49,1210.51 L644.26,1210.50 L646.04,1210.50 L647.82,1210.50 L649.59,1210.50 L651.37,1210.50 L653.15,1210.49 L654.92,1210.49 L656.70,1210.49 L658.47,1210.49 L660.25,1210.49 L662.03,1210.48 L663.80,1210.48 L665.58,1210.48 L667.36,1210.48 L669.13,1210.48 L670.91,1210.48 L672.69,1210.48 L674.46,1210.48 L676.24,1210.47 L678.02,1210.47 L679.79,1210.47 L681.57,1210.47 L683.34,1210.47 L685.12,1210.47 L686.90,1210.47 L688.67,1210.47 L690.45,1210.47 L692.23,1210.47 L694.00,1210.47 L695.78,1210.46 L697.56,1210.46 L699.33,1210.46 L701.11,1210.46 L702.89,1210.46 L704.66,1210.46 L706.44,1210.46 L708.21,1210.46 L709.99,1210.46 L711.77,1210.46 L713.54,1210.46 L715.32,1210.46 L717.10,1210.46 L718.87,1210.46 L720.65,1210.46 L722.43,1210.46 L724.20,1210.46 L725.98,1210.46 L727.76,1210.46 L729.53,1210.46 L731.31,1210.46 L733.08,1210.46 L734.86,1210.46 L736.64,1210.46 L738.41,1210.46 L740.19,1210.46 L741.97,1210.46 L743.74,1210.46 L745.52,1210.46 L747.30,1210.46 L749.07,1210.46 L750.85,1210.46 L752.63,1210.46 L754.40,1210.46 L756.18,1210.46 L757.96,1210.46 L759.73,1210.46 L761.51,1210.46 L763.28,1210.46 L765.06,1210.46 L766.84,1210.46 L768.61,1210.46 L770.39,1210.46 L772.17,1210.46 L773.94,1210.46 L775.72,1210.46 L777.50,1210.46 L779.27,1210.46 L781.05,1210.46 L782.83,1210.47 L784.60,1210.47 L786.38,1210.47 L788.15,1210.47 L789.93,1210.47 L791.71,1210.47 L793.48,1210.47 L795.26,1210.47 L797.04,1210.47 L798.81,1210.47 L800.59,1210.47 L802.37,1210.47 L804.14,1210.47 L805.92,1210.47 L807.70,1210.47 L809.47,1210.47 L811.25,1210.47 L813.02,1210.47 L814.80,1210.47 L816.58,1210.47 L818.35,1210.47 L820.13,1210.47 L821.91,1210.47 L823.68,1210.47 L825.46,1210.47 L827.24,1210.47 L829.01,1210.47 L830.79,1210.47 L832.57,1210.47 L834.34,1210.47 L836.12,1210.47 L837.89,1210.47 L839.67,1210.47 L841.45,1210.47 L843.22,1210.47 L845.00,1210.47 L846.78,1210.47 L848.55,1210.47 L850.33,1210.47 L852.11,1210.47 L853.88,1210.47 L855.66,1210.47 L857.44,1210.47" fill="none" stroke="#ffa500" stroke-width="5.0" stroke-linejoin="round" clip-path="url(#cl745)"/>
<line x1="896.20" y1="1210.46" x2="948.30" y2="1210.46" stroke="#ffa500" stroke-width="5.0" stroke-linecap="butt" />
<circle cx="148.64" cy="1227.99" r="8.3" fill="#ffa500"/>
<circle cx="204.90" cy="1226.04" r="8.3" fill="#ffa500"/>
<circle cx="262.37" cy="1222.40" r="8.3" fill="#ffa500"/>
<circle cx="318.03" cy="1218.39" r="8.3" fill="#ffa500"/>
<circle cx="383.25" cy="1214.47" r="8.3" fill="#ffa500"/>
<circle cx="578.70" cy="1210.65" r="8.3" fill="#ffa500"/>
<circle cx="765.60" cy="1210.46" r="8.3" fill="#ffa500"/>
<circle cx="948.30" cy="1210.46" r="8.3" fill="#ffa500"/>
<path d="M855.0,745.5 L131.0,745.5 L131.0,1250.5 L855.0,1250.5" fill="none" stroke="#000" stroke-width="2.2" stroke-linejoin="miter" stroke-linecap="butt"/>
<path d="M896.2,745.5 L1000.3,745.5 L1000.3,1250.5 L896.2,1250.5" fill="none" stroke="#000" stroke-width="2.2" stroke-linejoin="miter"/>
<polygon points="851.40,755.10 855.00,755.10 858.60,736.50 855.00,736.50" fill="#000"/>
<line x1="853.10" y1="1260.10" x2="856.90" y2="1241.50" stroke="#000" stroke-width="3.5" stroke-linecap="butt" />
<polygon points="892.60,755.10 896.20,755.10 899.80,736.50 896.20,736.50" fill="#000"/>
<line x1="894.30" y1="1260.10" x2="898.10" y2="1241.50" stroke="#000" stroke-width="3.5" stroke-linecap="butt" />
<line x1="204.90" y1="745.50" x2="204.90" y2="759.40" stroke="#000" stroke-width="2.1" stroke-linecap="butt" />
<line x1="204.90" y1="1250.50" x2="204.90" y2="1236.60" stroke="#000" stroke-width="2.1" stroke-linecap="butt" />
<text x="179.71" y="1281.00" font-size="28.4">10<tspan font-size="19.9" dy="-11.6" dx="0.4">0</tspan></text>
<line x1="391.80" y1="745.50" x2="391.80" y2="759.40" stroke="#000" stroke-width="2.1" stroke-linecap="butt" />
<line x1="391.80" y1="1250.50" x2="391.80" y2="1236.60" stroke="#000" stroke-width="2.1" stroke-linecap="butt" />
<text x="366.61" y="1281.00" font-size="28.4">10<tspan font-size="19.9" dy="-11.6" dx="0.4">1</tspan></text>
<line x1="578.70" y1="745.50" x2="578.70" y2="759.40" stroke="#000" stroke-width="2.1" stroke-linecap="butt" />
<line x1="578.70" y1="1250.50" x2="578.70" y2="1236.60" stroke="#000" stroke-width="2.1" stroke-linecap="butt" />
<text x="553.51" y="1281.00" font-size="28.4">10<tspan font-size="19.9" dy="-11.6" dx="0.4">2</tspan></text>
<line x1="765.60" y1="745.50" x2="765.60" y2="759.40" stroke="#000" stroke-width="2.1" stroke-linecap="butt" />
<line x1="765.60" y1="1250.50" x2="765.60" y2="1236.60" stroke="#000" stroke-width="2.1" stroke-linecap="butt" />
<text x="740.41" y="1281.00" font-size="28.4">10<tspan font-size="19.9" dy="-11.6" dx="0.4">3</tspan></text>
<line x1="148.64" y1="745.50" x2="148.64" y2="752.45" stroke="#000" stroke-width="1.8" stroke-linecap="butt" />
<line x1="148.64" y1="1250.50" x2="148.64" y2="1243.55" stroke="#000" stroke-width="1.8" stroke-linecap="butt" />
<line x1="163.44" y1="745.50" x2="163.44" y2="752.45" stroke="#000" stroke-width="1.8" stroke-linecap="butt" />
<line x1="163.44" y1="1250.50" x2="163.44" y2="1243.55" stroke="#000" stroke-width="1.8" stroke-linecap="butt" />
<line x1="175.95" y1="745.50" x2="175.95" y2="752.45" stroke="#000" stroke-width="1.8" stroke-linecap="butt" />
<line x1="175.95" y1="1250.50" x2="175.95" y2="1243.55" stroke="#000" stroke-width="1.8" stroke-linecap="butt" />
<line x1="186.79" y1="745.50" x2="186.79" y2="752.45" stroke="#000" stroke-width="1.8" stroke-linecap="butt" />
<line x1="186.79" y1="1250.50" x2="186.79" y2="1243.55" stroke="#000" stroke-width="1.8" stroke-linecap="butt" />
<line x1="196.35" y1="745.50" x2="196.35" y2="752.45" stroke="#000" stroke-width="1.8" stroke-linecap="butt" />
<line x1="196.35" y1="1250.50" x2="196.35" y2="1243.55" stroke="#000" stroke-width="1.8" stroke-linecap="butt" />
<line x1="261.16" y1="745.50" x2="261.16" y2="752.45" stroke="#000" stroke-width="1.8" stroke-linecap="butt" />
<line x1="261.16" y1="1250.50" x2="261.16" y2="1243.55" stroke="#000" stroke-width="1.8" stroke-linecap="butt" />
<line x1="294.07" y1="745.50" x2="294.07" y2="752.45" stroke="#000" stroke-width="1.8" stroke-linecap="butt" />
<line x1="294.07" y1="1250.50" x2="294.07" y2="1243.55" stroke="#000" stroke-width="1.8" stroke-linecap="butt" />
<line x1="317.43" y1="745.50" x2="317.43" y2="752.45" stroke="#000" stroke-width="1.8" stroke-linecap="butt" />
<line x1="317.43" y1="1250.50" x2="317.43" y2="1243.55" stroke="#000" stroke-width="1.8" stroke-linecap="butt" />
<line x1="335.54" y1="745.50" x2="335.54" y2="752.45" stroke="#000" stroke-width="1.8" stroke-linecap="butt" />
<line x1="335.54" y1="1250.50" x2="335.54" y2="1243.55" stroke="#000" stroke-width="1.8" stroke-linecap="butt" />
<line x1="350.34" y1="745.50" x2="350.34" y2="752.45" stroke="#000" stroke-width="1.8" stroke-linecap="butt" />
<line x1="350.34" y1="1250.50" x2="350.34" y2="1243.55" stroke="#000" stroke-width="1.8" stroke-linecap="butt" />
<line x1="362.85" y1="745.50" x2="362.85" y2="752.45" stroke="#000" stroke-width="1.8" stroke-linecap="butt" />
<line x1="362.85" y1="1250.50" x2="362.85" y2="1243.55" stroke="#000" stroke-width="1.8" stroke-linecap="butt" />
<line x1="373.69" y1="745.50" x2="373.69" y2="752.45" stroke="#000" stroke-width="1.8" stroke-linecap="butt" />
<line x1="373.69" y1="1250.50" x2="373.69" y2="1243.55" stroke="#000" stroke-width="1.8" stroke-linecap="butt" />
<line x1="383.25" y1="745.50" x2="383.25" y2="752.45" stroke="#000" stroke-width="1.8" stroke-linecap="butt" />
<line x1="383.25" y1="1250.50" x2="383.25" y2="1243.55" stroke="#000" stroke-width="1.8" stroke-linecap="butt" />
<line x1="448.06" y1="745.50" x2="448.06" y2="752.45" stroke="#000" stroke-width="1.8" stroke-linecap="butt" />
<line x1="448.06" y1="1250.50" x2="448.06" y2="1243.55" stroke="#000" stroke-width="1.8" stroke-linecap="butt" />
<line x1="480.97" y1="745.50" x2="480.97" y2="752.45" stroke="#000" stroke-width="1.8" stroke-linecap="butt" />
<line x1="480.97" y1="1250.50" x2="480.97" y2="1243.55" stroke="#000" stroke-width="1.8" stroke-linecap="butt" />
<line x1="504.33" y1="745.50" x2="504.33" y2="752.45" stroke="#000" stroke-width="1.8" stroke-linecap="butt" />
<line x1="504.33" y1="1250.50" x2="504.33" y2="1243.55" stroke="#000" stroke-width="1.8" stroke-linecap="butt" />
<line x1="522.44" y1="745.50" x2="522.44" y2="752.45" stroke="#000" stroke-width="1.8" stroke-linecap="butt" />
<line x1="522.44" y1="1250.50" x2="522.44" y2="1243.55" stroke="#000" stroke-width="1.8" stroke-linecap="butt" />
<line x1="537.24" y1="745.50" x2="537.24" y2="752.45" stroke="#000" stroke-width="1.8" stroke-linecap="butt" />
<line x1="537.24" y1="1250.50" x2="537.24" y2="1243.55" stroke="#000" stroke-width="1.8" stroke-linecap="butt" />
<line x1="549.75" y1="745.50" x2="549.75" y2="752.45" stroke="#000" stroke-width="1.8" stroke-linecap="butt" />
<line x1="549.75" y1="1250.50" x2="549.75" y2="1243.55" stroke="#000" stroke-width="1.8" stroke-linecap="butt" />
<line x1="560.59" y1="745.50" x2="560.59" y2="752.45" stroke="#000" stroke-width="1.8" stroke-linecap="butt" />
<line x1="560.59" y1="1250.50" x2="560.59" y2="1243.55" stroke="#000" stroke-width="1.8" stroke-linecap="butt" />
<line x1="570.15" y1="745.50" x2="570.15" y2="752.45" stroke="#000" stroke-width="1.8" stroke-linecap="butt" />
<line x1="570.15" y1="1250.50" x2="570.15" y2="1243.55" stroke="#000" stroke-width="1.8" stroke-linecap="butt" />
<line x1="634.96" y1="745.50" x2="634.96" y2="752.45" stroke="#000" stroke-width="1.8" stroke-linecap="butt" />
<line x1="634.96" y1="1250.50" x2="634.96" y2="1243.55" stroke="#000" stroke-width="1.8" stroke-linecap="butt" />
<line x1="667.87" y1="745.50" x2="667.87" y2="752.45" stroke="#000" stroke-width="1.8" stroke-linecap="butt" />
<line x1="667.87" y1="1250.50" x2="667.87" y2="1243.55" stroke="#000" stroke-width="1.8" stroke-linecap="butt" />
<line x1="691.23" y1="745.50" x2="691.23" y2="752.45" stroke="#000" stroke-width="1.8" stroke-linecap="butt" />
<line x1="691.23" y1="1250.50" x2="691.23" y2="1243.55" stroke="#000" stroke-width="1.8" stroke-linecap="butt" />
<line x1="709.34" y1="745.50" x2="709.34" y2="752.45" stroke="#000" stroke-width="1.8" stroke-linecap="butt" />
<line x1="709.34" y1="1250.50" x2="709.34" y2="1243.55" stroke="#000" stroke-width="1.8" stroke-linecap="butt" />
<line x1="724.14" y1="745.50" x2="724.14" y2="752.45" stroke="#000" stroke-width="1.8" stroke-linecap="butt" />
<line x1="724.14" y1="1250.50" x2="724.14" y2="1243.55" stroke="#000" stroke-width="1.8" stroke-linecap="butt" />
<line x1="736.65" y1="745.50" x2="736.65" y2="752.45" stroke="#000" stroke-width="1.8" stroke-linecap="butt" />
<line x1="736.65" y1="1250.50" x2="736.65" y2="1243.55" stroke="#000" stroke-width="1.8" stroke-linecap="butt" />
<line x1="747.49" y1="745.50" x2="747.49" y2="752.45" stroke="#000" stroke-width="1.8" stroke-linecap="butt" />
<line x1="747.49" y1="1250.50" x2="747.49" y2="1243.55" stroke="#000" stroke-width="1.8" stroke-linecap="butt" />
<line x1="757.05" y1="745.50" x2="757.05" y2="752.45" stroke="#000" stroke-width="1.8" stroke-linecap="butt" />
<line x1="757.05" y1="1250.50" x2="757.05" y2="1243.55" stroke="#000" stroke-width="1.8" stroke-linecap="butt" />
<line x1="821.86" y1="745.50" x2="821.86" y2="752.45" stroke="#000" stroke-width="1.8" stroke-linecap="butt" />
<line x1="821.86" y1="1250.50" x2="821.86" y2="1243.55" stroke="#000" stroke-width="1.8" stroke-linecap="butt" />
<line x1="948.30" y1="745.50" x2="948.30" y2="759.40" stroke="#000" stroke-width="2.1" stroke-linecap="butt" />
<line x1="948.30" y1="1250.50" x2="948.30" y2="1236.60" stroke="#000" stroke-width="2.1" stroke-linecap="butt" />
<text x="947.50" y="1279.60" font-size="28.4" text-anchor="middle">∞</text>
<line x1="131.00" y1="1214.10" x2="144.90" y2="1214.10" stroke="#000" stroke-width="2.1" stroke-linecap="butt" />
<line x1="1000.30" y1="1214.10" x2="986.10" y2="1214.10" stroke="#000" stroke-width="2.1" stroke-linecap="butt" />
<text x="122.10" y="1223.50" font-size="28.4" text-anchor="end">0.006</text>
<line x1="131.00" y1="1120.85" x2="144.90" y2="1120.85" stroke="#000" stroke-width="2.1" stroke-linecap="butt" />
<line x1="1000.30" y1="1120.85" x2="986.10" y2="1120.85" stroke="#000" stroke-width="2.1" stroke-linecap="butt" />
<text x="122.10" y="1130.25" font-size="28.4" text-anchor="end">0.007</text>
<line x1="131.00" y1="1027.60" x2="144.90" y2="1027.60" stroke="#000" stroke-width="2.1" stroke-linecap="butt" />
<line x1="1000.30" y1="1027.60" x2="986.10" y2="1027.60" stroke="#000" stroke-width="2.1" stroke-linecap="butt" />
<text x="122.10" y="1037.00" font-size="28.4" text-anchor="end">0.008</text>
<line x1="131.00" y1="934.35" x2="144.90" y2="934.35" stroke="#000" stroke-width="2.1" stroke-linecap="butt" />
<line x1="1000.30" y1="934.35" x2="986.10" y2="934.35" stroke="#000" stroke-width="2.1" stroke-linecap="butt" />
<text x="122.10" y="943.75" font-size="28.4" text-anchor="end">0.009</text>
<line x1="131.00" y1="841.10" x2="144.90" y2="841.10" stroke="#000" stroke-width="2.1" stroke-linecap="butt" />
<line x1="1000.30" y1="841.10" x2="986.10" y2="841.10" stroke="#000" stroke-width="2.1" stroke-linecap="butt" />
<text x="122.10" y="850.50" font-size="28.4" text-anchor="end">0.010</text>
<line x1="131.00" y1="747.85" x2="144.90" y2="747.85" stroke="#000" stroke-width="2.1" stroke-linecap="butt" />
<line x1="1000.30" y1="747.85" x2="986.10" y2="747.85" stroke="#000" stroke-width="2.1" stroke-linecap="butt" />
<text x="122.10" y="757.25" font-size="28.4" text-anchor="end">0.011</text>
<line x1="131.00" y1="1232.75" x2="137.95" y2="1232.75" stroke="#000" stroke-width="1.8" stroke-linecap="butt" />
<line x1="1000.30" y1="1232.75" x2="993.05" y2="1232.75" stroke="#000" stroke-width="1.8" stroke-linecap="butt" />
<line x1="131.00" y1="1195.45" x2="137.95" y2="1195.45" stroke="#000" stroke-width="1.8" stroke-linecap="butt" />
<line x1="1000.30" y1="1195.45" x2="993.05" y2="1195.45" stroke="#000" stroke-width="1.8" stroke-linecap="butt" />
<line x1="131.00" y1="1176.80" x2="137.95" y2="1176.80" stroke="#000" stroke-width="1.8" stroke-linecap="butt" />
<line x1="1000.30" y1="1176.80" x2="993.05" y2="1176.80" stroke="#000" stroke-width="1.8" stroke-linecap="butt" />
<line x1="131.00" y1="1158.15" x2="137.95" y2="1158.15" stroke="#000" stroke-width="1.8" stroke-linecap="butt" />
<line x1="1000.30" y1="1158.15" x2="993.05" y2="1158.15" stroke="#000" stroke-width="1.8" stroke-linecap="butt" />
<line x1="131.00" y1="1139.50" x2="137.95" y2="1139.50" stroke="#000" stroke-width="1.8" stroke-linecap="butt" />
<line x1="1000.30" y1="1139.50" x2="993.05" y2="1139.50" stroke="#000" stroke-width="1.8" stroke-linecap="butt" />
<line x1="131.00" y1="1102.20" x2="137.95" y2="1102.20" stroke="#000" stroke-width="1.8" stroke-linecap="butt" />
<line x1="1000.30" y1="1102.20" x2="993.05" y2="1102.20" stroke="#000" stroke-width="1.8" stroke-linecap="butt" />
<line x1="131.00" y1="1083.55" x2="137.95" y2="1083.55" stroke="#000" stroke-width="1.8" stroke-linecap="butt" />
<line x1="1000.30" y1="1083.55" x2="993.05" y2="1083.55" stroke="#000" stroke-width="1.8" stroke-linecap="butt" />
<line x1="131.00" y1="1064.90" x2="137.95" y2="1064.90" stroke="#000" stroke-width="1.8" stroke-linecap="butt" />
<line x1="1000.30" y1="1064.90" x2="993.05" y2="1064.90" stroke="#000" stroke-width="1.8" stroke-linecap="butt" />
<line x1="131.00" y1="1046.25" x2="137.95" y2="1046.25" stroke="#000" stroke-width="1.8" stroke-linecap="butt" />
<line x1="1000.30" y1="1046.25" x2="993.05" y2="1046.25" stroke="#000" stroke-width="1.8" stroke-linecap="butt" />
<line x1="131.00" y1="1008.95" x2="137.95" y2="1008.95" stroke="#000" stroke-width="1.8" stroke-linecap="butt" />
<line x1="1000.30" y1="1008.95" x2="993.05" y2="1008.95" stroke="#000" stroke-width="1.8" stroke-linecap="butt" />
<line x1="131.00" y1="990.30" x2="137.95" y2="990.30" stroke="#000" stroke-width="1.8" stroke-linecap="butt" />
<line x1="1000.30" y1="990.30" x2="993.05" y2="990.30" stroke="#000" stroke-width="1.8" stroke-linecap="butt" />
<line x1="131.00" y1="971.65" x2="137.95" y2="971.65" stroke="#000" stroke-width="1.8" stroke-linecap="butt" />
<line x1="1000.30" y1="971.65" x2="993.05" y2="971.65" stroke="#000" stroke-width="1.8" stroke-linecap="butt" />
<line x1="131.00" y1="953.00" x2="137.95" y2="953.00" stroke="#000" stroke-width="1.8" stroke-linecap="butt" />
<line x1="1000.30" y1="953.00" x2="993.05" y2="953.00" stroke="#000" stroke-width="1.8" stroke-linecap="butt" />
<line x1="131.00" y1="915.70" x2="137.95" y2="915.70" stroke="#000" stroke-width="1.8" stroke-linecap="butt" />
<line x1="1000.30" y1="915.70" x2="993.05" y2="915.70" stroke="#000" stroke-width="1.8" stroke-linecap="butt" />
<line x1="131.00" y1="897.05" x2="137.95" y2="897.05" stroke="#000" stroke-width="1.8" stroke-linecap="butt" />
<line x1="1000.30" y1="897.05" x2="993.05" y2="897.05" stroke="#000" stroke-width="1.8" stroke-linecap="butt" />
<line x1="131.00" y1="878.40" x2="137.95" y2="878.40" stroke="#000" stroke-width="1.8" stroke-linecap="butt" />
<line x1="1000.30" y1="878.40" x2="993.05" y2="878.40" stroke="#000" stroke-width="1.8" stroke-linecap="butt" />
<line x1="131.00" y1="859.75" x2="137.95" y2="859.75" stroke="#000" stroke-width="1.8" stroke-linecap="butt" />
<line x1="1000.30" y1="859.75" x2="993.05" y2="859.75" stroke="#000" stroke-width="1.8" stroke-linecap="butt" />
<line x1="131.00" y1="822.45" x2="137.95" y2="822.45" stroke="#000" stroke-width="1.8" stroke-linecap="butt" />
<line x1="1000.30" y1="822.45" x2="993.05" y2="822.45" stroke="#000" stroke-width="1.8" stroke-linecap="butt" />
<line x1="131.00" y1="803.80" x2="137.95" y2="803.80" stroke="#000" stroke-width="1.8" stroke-linecap="butt" />
<line x1="1000.30" y1="803.80" x2="993.05" y2="803.80" stroke="#000" stroke-width="1.8" stroke-linecap="butt" />
<line x1="131.00" y1="785.15" x2="137.95" y2="785.15" stroke="#000" stroke-width="1.8" stroke-linecap="butt" />
<line x1="1000.30" y1="785.15" x2="993.05" y2="785.15" stroke="#000" stroke-width="1.8" stroke-linecap="butt" />
<line x1="131.00" y1="766.50" x2="137.95" y2="766.50" stroke="#000" stroke-width="1.8" stroke-linecap="butt" />
<line x1="1000.30" y1="766.50" x2="993.05" y2="766.50" stroke="#000" stroke-width="1.8" stroke-linecap="butt" />
<text x="493.00" y="731.60" font-size="31.2" text-anchor="middle">(b) SDEM3 noise</text>
<text x="492.20" y="1320.60" font-size="31.2" text-anchor="middle">Noise bias <tspan font-style="italic">η</tspan></text>
<text transform="translate(24,998.10) rotate(-90)" font-size="31.2" text-anchor="middle">Threshold <tspan font-style="italic">p</tspan><tspan font-size="21.85" dy="5">th</tspan></text>
<rect x="144.6" y="759.4" width="176.4" height="177.80000000000007" rx="5.5" ry="5.5" fill="#fff" fill-opacity="0.8" stroke="#cccccc" stroke-opacity="0.8" stroke-width="2.2"/>
<line x1="155.40" y1="782.20" x2="216.40" y2="782.20" stroke="#0000ff" stroke-width="3.4" stroke-linecap="butt" />
<line x1="186.00" y1="768.00" x2="186.00" y2="796.40" stroke="#0000ff" stroke-width="3.4" stroke-linecap="butt" />
<circle cx="186" cy="782.2" r="8.3" fill="#0000ff"/>
<text x="238.0" y="792.20" font-size="28.4">X<tspan font-size="19.9" dy="-11.8" dx="0.3">3</tspan><tspan dy="11.8" dx="0.3">Z</tspan><tspan font-size="19.9" dy="-11.8" dx="0.3">3</tspan></text>
<line x1="155.40" y1="824.40" x2="216.40" y2="824.40" stroke="#008000" stroke-width="3.4" stroke-linecap="butt" />
<line x1="186.00" y1="810.20" x2="186.00" y2="838.60" stroke="#008000" stroke-width="3.4" stroke-linecap="butt" />
<circle cx="186" cy="824.4" r="8.3" fill="#008000"/>
<text x="238.0" y="834.40" font-size="28.4">CSS</text>
<line x1="155.40" y1="866.60" x2="216.40" y2="866.60" stroke="#ff0000" stroke-width="3.4" stroke-linecap="butt" />
<line x1="186.00" y1="852.40" x2="186.00" y2="880.80" stroke="#ff0000" stroke-width="3.4" stroke-linecap="butt" />
<circle cx="186" cy="866.6" r="8.3" fill="#ff0000"/>
<text x="238.0" y="876.60" font-size="28.4">P<tspan font-size="19.9" dy="-11.8" dx="0.3">6</tspan></text>
<line x1="155.40" y1="908.80" x2="216.40" y2="908.80" stroke="#ffa500" stroke-width="3.4" stroke-linecap="butt" />
<line x1="186.00" y1="894.60" x2="186.00" y2="923.00" stroke="#ffa500" stroke-width="3.4" stroke-linecap="butt" />
<circle cx="186" cy="908.8" r="8.3" fill="#ffa500"/>
<text x="238.0" y="918.80" font-size="28.4">XYZ<tspan font-size="19.9" dy="-11.8" dx="0.3">2</tspan></text>
</svg>
</body></html>
